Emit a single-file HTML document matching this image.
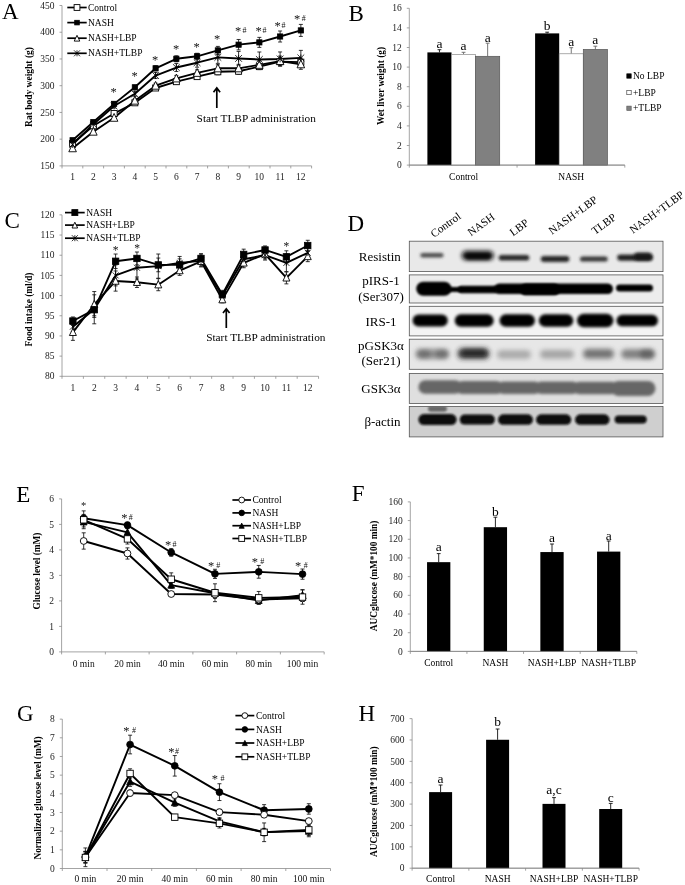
<!DOCTYPE html>
<html lang="en"><head><meta charset="utf-8"><title>Figure</title>
<style>html,body{margin:0;padding:0;background:#fff}svg{display:block}</style>
</head><body>
<svg width="685" height="885" viewBox="0 0 685 885" font-family='"Liberation Serif", "Times New Roman", serif'>
<defs>
<filter id="b1" x="-30%" y="-80%" width="160%" height="260%"><feGaussianBlur stdDeviation="1.0"/></filter>
<filter id="b15" x="-30%" y="-80%" width="160%" height="260%"><feGaussianBlur stdDeviation="1.5"/></filter>
<filter id="b2" x="-30%" y="-80%" width="160%" height="260%"><feGaussianBlur stdDeviation="2.0"/></filter>
<filter id="b25" x="-30%" y="-80%" width="160%" height="260%"><feGaussianBlur stdDeviation="2.6"/></filter>
<filter id="b07" x="-30%" y="-80%" width="160%" height="260%"><feGaussianBlur stdDeviation="0.7"/></filter>
</defs>
<rect width="685" height="885" fill="#fff"/>
<text x="2.00" y="19.00" font-size="23">A</text>
<text x="348.50" y="20.60" font-size="23">B</text>
<text x="4.50" y="228.00" font-size="23">C</text>
<text x="347.50" y="231.40" font-size="23">D</text>
<text x="16.30" y="502.00" font-size="23">E</text>
<text x="351.80" y="501.40" font-size="23">F</text>
<text x="17.00" y="721.00" font-size="23">G</text>
<text x="358.60" y="721.40" font-size="23">H</text>
<line x1="62.00" y1="5.49" x2="62.00" y2="165.90" stroke="#868686" stroke-width="0.75"/>
<line x1="62.00" y1="165.90" x2="311.60" y2="165.90" stroke="#868686" stroke-width="0.75"/>
<line x1="59.50" y1="165.90" x2="62.00" y2="165.90" stroke="#868686" stroke-width="0.75"/>
<line x1="59.50" y1="139.17" x2="62.00" y2="139.17" stroke="#868686" stroke-width="0.75"/>
<line x1="59.50" y1="112.43" x2="62.00" y2="112.43" stroke="#868686" stroke-width="0.75"/>
<line x1="59.50" y1="85.70" x2="62.00" y2="85.70" stroke="#868686" stroke-width="0.75"/>
<line x1="59.50" y1="58.96" x2="62.00" y2="58.96" stroke="#868686" stroke-width="0.75"/>
<line x1="59.50" y1="32.23" x2="62.00" y2="32.23" stroke="#868686" stroke-width="0.75"/>
<line x1="59.50" y1="5.49" x2="62.00" y2="5.49" stroke="#868686" stroke-width="0.75"/>
<line x1="62.00" y1="165.90" x2="62.00" y2="168.40" stroke="#868686" stroke-width="0.75"/>
<line x1="82.80" y1="165.90" x2="82.80" y2="168.40" stroke="#868686" stroke-width="0.75"/>
<line x1="103.60" y1="165.90" x2="103.60" y2="168.40" stroke="#868686" stroke-width="0.75"/>
<line x1="124.40" y1="165.90" x2="124.40" y2="168.40" stroke="#868686" stroke-width="0.75"/>
<line x1="145.20" y1="165.90" x2="145.20" y2="168.40" stroke="#868686" stroke-width="0.75"/>
<line x1="166.00" y1="165.90" x2="166.00" y2="168.40" stroke="#868686" stroke-width="0.75"/>
<line x1="186.80" y1="165.90" x2="186.80" y2="168.40" stroke="#868686" stroke-width="0.75"/>
<line x1="207.60" y1="165.90" x2="207.60" y2="168.40" stroke="#868686" stroke-width="0.75"/>
<line x1="228.40" y1="165.90" x2="228.40" y2="168.40" stroke="#868686" stroke-width="0.75"/>
<line x1="249.20" y1="165.90" x2="249.20" y2="168.40" stroke="#868686" stroke-width="0.75"/>
<line x1="270.00" y1="165.90" x2="270.00" y2="168.40" stroke="#868686" stroke-width="0.75"/>
<line x1="290.80" y1="165.90" x2="290.80" y2="168.40" stroke="#868686" stroke-width="0.75"/>
<line x1="311.60" y1="165.90" x2="311.60" y2="168.40" stroke="#868686" stroke-width="0.75"/>
<text x="54.40" y="169.05" font-size="9.5" text-anchor="end" fill="#222">150</text>
<text x="54.40" y="142.32" font-size="9.5" text-anchor="end" fill="#222">200</text>
<text x="54.40" y="115.58" font-size="9.5" text-anchor="end" fill="#222">250</text>
<text x="54.40" y="88.85" font-size="9.5" text-anchor="end" fill="#222">300</text>
<text x="54.40" y="62.11" font-size="9.5" text-anchor="end" fill="#222">350</text>
<text x="54.40" y="35.38" font-size="9.5" text-anchor="end" fill="#222">400</text>
<text x="54.40" y="8.64" font-size="9.5" text-anchor="end" fill="#222">450</text>
<text x="72.60" y="179.80" font-size="9.5" text-anchor="middle" fill="#222">1</text>
<text x="93.35" y="179.80" font-size="9.5" text-anchor="middle" fill="#222">2</text>
<text x="114.10" y="179.80" font-size="9.5" text-anchor="middle" fill="#222">3</text>
<text x="134.85" y="179.80" font-size="9.5" text-anchor="middle" fill="#222">4</text>
<text x="155.60" y="179.80" font-size="9.5" text-anchor="middle" fill="#222">5</text>
<text x="176.35" y="179.80" font-size="9.5" text-anchor="middle" fill="#222">6</text>
<text x="197.10" y="179.80" font-size="9.5" text-anchor="middle" fill="#222">7</text>
<text x="217.85" y="179.80" font-size="9.5" text-anchor="middle" fill="#222">8</text>
<text x="238.60" y="179.80" font-size="9.5" text-anchor="middle" fill="#222">9</text>
<text x="259.35" y="179.80" font-size="9.5" text-anchor="middle" fill="#222">10</text>
<text x="280.10" y="179.80" font-size="9.5" text-anchor="middle" fill="#222">11</text>
<text x="300.85" y="179.80" font-size="9.5" text-anchor="middle" fill="#222">12</text>
<text x="32.20" y="87.00" font-size="9.5" text-anchor="middle" font-weight="bold" transform="rotate(-90 32.20 87.00)">Rat body weight (g)</text>
<path d="M72.60 141.94 L72.60 144.94 M70.60 141.94 L74.60 141.94 M70.60 144.94 L74.60 144.94" fill="none" stroke="#111" stroke-width="0.85"/>
<path d="M93.35 124.30 L93.35 127.30 M91.35 124.30 L95.35 124.30 M91.35 127.30 L95.35 127.30" fill="none" stroke="#111" stroke-width="0.85"/>
<path d="M114.10 112.00 L114.10 115.00 M112.10 112.00 L116.10 112.00 M112.10 115.00 L116.10 115.00" fill="none" stroke="#111" stroke-width="0.85"/>
<path d="M134.85 100.81 L134.85 104.81 M132.85 100.81 L136.85 100.81 M132.85 104.81 L136.85 104.81" fill="none" stroke="#111" stroke-width="0.85"/>
<path d="M155.60 85.99 L155.60 89.99 M153.60 85.99 L157.60 85.99 M153.60 89.99 L157.60 89.99" fill="none" stroke="#111" stroke-width="0.85"/>
<path d="M176.35 79.18 L176.35 84.18 M174.35 79.18 L178.35 79.18 M174.35 84.18 L178.35 84.18" fill="none" stroke="#111" stroke-width="0.85"/>
<path d="M197.10 74.11 L197.10 79.11 M195.10 74.11 L199.10 74.11 M195.10 79.11 L199.10 79.11" fill="none" stroke="#111" stroke-width="0.85"/>
<path d="M217.85 68.79 L217.85 74.79 M215.85 68.79 L219.85 68.79 M215.85 74.79 L219.85 74.79" fill="none" stroke="#111" stroke-width="0.85"/>
<path d="M238.60 68.26 L238.60 74.26 M236.60 68.26 L240.60 68.26 M236.60 74.26 L240.60 74.26" fill="none" stroke="#111" stroke-width="0.85"/>
<path d="M259.35 63.61 L259.35 69.61 M257.35 63.61 L261.35 63.61 M257.35 69.61 L261.35 69.61" fill="none" stroke="#111" stroke-width="0.85"/>
<path d="M280.10 58.13 L280.10 65.13 M278.10 58.13 L282.10 58.13 M278.10 65.13 L282.10 65.13" fill="none" stroke="#111" stroke-width="0.85"/>
<path d="M300.85 58.17 L300.85 66.17 M298.85 58.17 L302.85 58.17 M298.85 66.17 L302.85 66.17" fill="none" stroke="#111" stroke-width="0.85"/>
<path d="M72.60 146.75 L72.60 149.75 M70.60 146.75 L74.60 146.75 M70.60 149.75 L74.60 149.75" fill="none" stroke="#111" stroke-width="0.85"/>
<path d="M93.35 130.18 L93.35 133.18 M91.35 130.18 L95.35 130.18 M91.35 133.18 L95.35 133.18" fill="none" stroke="#111" stroke-width="0.85"/>
<path d="M114.10 115.78 L114.10 119.78 M112.10 115.78 L116.10 115.78 M112.10 119.78 L116.10 119.78" fill="none" stroke="#111" stroke-width="0.85"/>
<path d="M134.85 98.67 L134.85 102.67 M132.85 98.67 L136.85 98.67 M132.85 102.67 L136.85 102.67" fill="none" stroke="#111" stroke-width="0.85"/>
<path d="M155.60 83.20 L155.60 88.20 M153.60 83.20 L157.60 83.20 M153.60 88.20 L157.60 88.20" fill="none" stroke="#111" stroke-width="0.85"/>
<path d="M176.35 75.42 L176.35 81.42 M174.35 75.42 L178.35 75.42 M174.35 81.42 L178.35 81.42" fill="none" stroke="#111" stroke-width="0.85"/>
<path d="M197.10 69.86 L197.10 75.86 M195.10 69.86 L199.10 69.86 M195.10 75.86 L199.10 75.86" fill="none" stroke="#111" stroke-width="0.85"/>
<path d="M217.85 64.82 L217.85 71.82 M215.85 64.82 L219.85 64.82 M215.85 71.82 L219.85 71.82" fill="none" stroke="#111" stroke-width="0.85"/>
<path d="M238.60 64.32 L238.60 72.32 M236.60 64.32 L240.60 64.32 M236.60 72.32 L240.60 72.32" fill="none" stroke="#111" stroke-width="0.85"/>
<path d="M259.35 60.84 L259.35 68.84 M257.35 60.84 L261.35 60.84 M257.35 68.84 L261.35 68.84" fill="none" stroke="#111" stroke-width="0.85"/>
<path d="M280.10 56.10 L280.10 66.10 M278.10 56.10 L282.10 56.10 M278.10 66.10 L282.10 66.10" fill="none" stroke="#111" stroke-width="0.85"/>
<path d="M300.85 59.31 L300.85 69.31 M298.85 59.31 L302.85 59.31 M298.85 69.31 L302.85 69.31" fill="none" stroke="#111" stroke-width="0.85"/>
<path d="M72.60 143.01 L72.60 146.01 M70.60 143.01 L74.60 143.01 M70.60 146.01 L74.60 146.01" fill="none" stroke="#111" stroke-width="0.85"/>
<path d="M93.35 122.69 L93.35 125.69 M91.35 122.69 L95.35 122.69 M91.35 125.69 L95.35 125.69" fill="none" stroke="#111" stroke-width="0.85"/>
<path d="M114.10 104.01 L114.10 108.01 M112.10 104.01 L116.10 104.01 M112.10 108.01 L116.10 108.01" fill="none" stroke="#111" stroke-width="0.85"/>
<path d="M134.85 91.22 L134.85 96.22 M132.85 91.22 L136.85 91.22 M132.85 96.22 L136.85 96.22" fill="none" stroke="#111" stroke-width="0.85"/>
<path d="M155.60 72.54 L155.60 78.54 M153.60 72.54 L157.60 72.54 M153.60 78.54 L157.60 78.54" fill="none" stroke="#111" stroke-width="0.85"/>
<path d="M176.35 63.52 L176.35 71.52 M174.35 63.52 L178.35 63.52 M174.35 71.52 L178.35 71.52" fill="none" stroke="#111" stroke-width="0.85"/>
<path d="M197.10 58.20 L197.10 67.20 M195.10 58.20 L199.10 58.20 M195.10 67.20 L199.10 67.20" fill="none" stroke="#111" stroke-width="0.85"/>
<path d="M217.85 51.36 L217.85 63.36 M215.85 51.36 L219.85 51.36 M215.85 63.36 L219.85 63.36" fill="none" stroke="#111" stroke-width="0.85"/>
<path d="M238.60 51.43 L238.60 65.43 M236.60 51.43 L240.60 51.43 M236.60 65.43 L240.60 65.43" fill="none" stroke="#111" stroke-width="0.85"/>
<path d="M259.35 51.99 L259.35 66.99 M257.35 51.99 L261.35 51.99 M257.35 66.99 L261.35 66.99" fill="none" stroke="#111" stroke-width="0.85"/>
<path d="M280.10 51.96 L280.10 65.96 M278.10 51.96 L282.10 51.96 M278.10 65.96 L282.10 65.96" fill="none" stroke="#111" stroke-width="0.85"/>
<path d="M300.85 50.39 L300.85 65.39 M298.85 50.39 L302.85 50.39 M298.85 65.39 L302.85 65.39" fill="none" stroke="#111" stroke-width="0.85"/>
<path d="M72.60 138.73 L72.60 141.73 M70.60 138.73 L74.60 138.73 M70.60 141.73 L74.60 141.73" fill="none" stroke="#111" stroke-width="0.85"/>
<path d="M93.35 120.55 L93.35 123.55 M91.35 120.55 L95.35 120.55 M91.35 123.55 L95.35 123.55" fill="none" stroke="#111" stroke-width="0.85"/>
<path d="M114.10 101.87 L114.10 105.87 M112.10 101.87 L116.10 101.87 M112.10 105.87 L116.10 105.87" fill="none" stroke="#111" stroke-width="0.85"/>
<path d="M134.85 85.30 L134.85 89.30 M132.85 85.30 L136.85 85.30 M132.85 89.30 L136.85 89.30" fill="none" stroke="#111" stroke-width="0.85"/>
<path d="M155.60 65.82 L155.60 70.82 M153.60 65.82 L157.60 65.82 M153.60 70.82 L157.60 70.82" fill="none" stroke="#111" stroke-width="0.85"/>
<path d="M176.35 55.80 L176.35 61.80 M174.35 55.80 L178.35 55.80 M174.35 61.80 L178.35 61.80" fill="none" stroke="#111" stroke-width="0.85"/>
<path d="M197.10 53.29 L197.10 59.29 M195.10 53.29 L199.10 53.29 M195.10 59.29 L199.10 59.29" fill="none" stroke="#111" stroke-width="0.85"/>
<path d="M217.85 46.40 L217.85 54.40 M215.85 46.40 L219.85 46.40 M215.85 54.40 L219.85 54.40" fill="none" stroke="#111" stroke-width="0.85"/>
<path d="M238.60 39.48 L238.60 49.88 M236.60 39.48 L240.60 39.48 M236.60 49.88 L240.60 49.88" fill="none" stroke="#111" stroke-width="0.85"/>
<path d="M259.35 37.38 L259.35 47.38 M257.35 37.38 L261.35 37.38 M257.35 47.38 L261.35 47.38" fill="none" stroke="#111" stroke-width="0.85"/>
<path d="M280.10 31.00 L280.10 42.00 M278.10 31.00 L282.10 31.00 M278.10 42.00 L282.10 42.00" fill="none" stroke="#111" stroke-width="0.85"/>
<path d="M300.85 24.41 L300.85 36.41 M298.85 24.41 L302.85 24.41 M298.85 36.41 L302.85 36.41" fill="none" stroke="#111" stroke-width="0.85"/>
<polyline points="72.60,143.44 93.35,125.80 114.10,113.50 134.85,102.81 155.60,87.99 176.35,81.68 197.10,76.61 217.85,71.79 238.60,71.26 259.35,66.61 280.10,61.63 300.85,62.17" fill="none" stroke="#000" stroke-width="1.9" stroke-linejoin="round"/>
<polyline points="72.60,148.25 93.35,131.68 114.10,117.78 134.85,100.67 155.60,85.70 176.35,78.42 197.10,72.86 217.85,68.32 238.60,68.32 259.35,64.84 280.10,61.10 300.85,64.31" fill="none" stroke="#000" stroke-width="1.9" stroke-linejoin="round"/>
<polyline points="72.60,144.51 93.35,124.19 114.10,106.01 134.85,93.72 155.60,75.54 176.35,67.52 197.10,62.70 217.85,57.36 238.60,58.43 259.35,59.49 280.10,58.96 300.85,57.89" fill="none" stroke="#000" stroke-width="1.9" stroke-linejoin="round"/>
<polyline points="72.60,140.23 93.35,122.05 114.10,103.87 134.85,87.30 155.60,68.32 176.35,58.80 197.10,56.29 217.85,50.40 238.60,44.68 259.35,42.38 280.10,36.50 300.85,30.41" fill="none" stroke="#000" stroke-width="1.9" stroke-linejoin="round"/>
<rect x="69.60" y="140.44" width="6.00" height="6.00" fill="#fff" stroke="#000" stroke-width="0.9"/>
<rect x="90.35" y="122.80" width="6.00" height="6.00" fill="#fff" stroke="#000" stroke-width="0.9"/>
<rect x="111.10" y="110.50" width="6.00" height="6.00" fill="#fff" stroke="#000" stroke-width="0.9"/>
<rect x="131.85" y="99.81" width="6.00" height="6.00" fill="#fff" stroke="#000" stroke-width="0.9"/>
<rect x="152.60" y="84.99" width="6.00" height="6.00" fill="#fff" stroke="#000" stroke-width="0.9"/>
<rect x="173.35" y="78.68" width="6.00" height="6.00" fill="#fff" stroke="#000" stroke-width="0.9"/>
<rect x="194.10" y="73.61" width="6.00" height="6.00" fill="#fff" stroke="#000" stroke-width="0.9"/>
<rect x="214.85" y="68.79" width="6.00" height="6.00" fill="#fff" stroke="#000" stroke-width="0.9"/>
<rect x="235.60" y="68.26" width="6.00" height="6.00" fill="#fff" stroke="#000" stroke-width="0.9"/>
<rect x="256.35" y="63.61" width="6.00" height="6.00" fill="#fff" stroke="#000" stroke-width="0.9"/>
<rect x="277.10" y="58.63" width="6.00" height="6.00" fill="#fff" stroke="#000" stroke-width="0.9"/>
<rect x="297.85" y="59.17" width="6.00" height="6.00" fill="#fff" stroke="#000" stroke-width="0.9"/>
<path d="M72.60 143.95 L76.40 151.75 L68.80 151.75 Z" fill="#fff" stroke="#000" stroke-width="0.9"/>
<path d="M93.35 127.38 L97.15 135.18 L89.55 135.18 Z" fill="#fff" stroke="#000" stroke-width="0.9"/>
<path d="M114.10 113.48 L117.90 121.28 L110.30 121.28 Z" fill="#fff" stroke="#000" stroke-width="0.9"/>
<path d="M134.85 96.37 L138.65 104.17 L131.05 104.17 Z" fill="#fff" stroke="#000" stroke-width="0.9"/>
<path d="M155.60 81.40 L159.40 89.20 L151.80 89.20 Z" fill="#fff" stroke="#000" stroke-width="0.9"/>
<path d="M176.35 74.12 L180.15 81.92 L172.55 81.92 Z" fill="#fff" stroke="#000" stroke-width="0.9"/>
<path d="M197.10 68.56 L200.90 76.36 L193.30 76.36 Z" fill="#fff" stroke="#000" stroke-width="0.9"/>
<path d="M217.85 64.02 L221.65 71.82 L214.05 71.82 Z" fill="#fff" stroke="#000" stroke-width="0.9"/>
<path d="M238.60 64.02 L242.40 71.82 L234.80 71.82 Z" fill="#fff" stroke="#000" stroke-width="0.9"/>
<path d="M259.35 60.54 L263.15 68.34 L255.55 68.34 Z" fill="#fff" stroke="#000" stroke-width="0.9"/>
<path d="M280.10 56.80 L283.90 64.60 L276.30 64.60 Z" fill="#fff" stroke="#000" stroke-width="0.9"/>
<path d="M300.85 60.01 L304.65 67.81 L297.05 67.81 Z" fill="#fff" stroke="#000" stroke-width="0.9"/>
<path d="M69.20 141.11 L76.00 147.91 M69.20 147.91 L76.00 141.11 M72.60 141.11 L72.60 147.91" fill="none" stroke="#000" stroke-width="0.8"/>
<path d="M89.95 120.79 L96.75 127.59 M89.95 127.59 L96.75 120.79 M93.35 120.79 L93.35 127.59" fill="none" stroke="#000" stroke-width="0.8"/>
<path d="M110.70 102.61 L117.50 109.41 M110.70 109.41 L117.50 102.61 M114.10 102.61 L114.10 109.41" fill="none" stroke="#000" stroke-width="0.8"/>
<path d="M131.45 90.32 L138.25 97.12 M131.45 97.12 L138.25 90.32 M134.85 90.32 L134.85 97.12" fill="none" stroke="#000" stroke-width="0.8"/>
<path d="M152.20 72.14 L159.00 78.94 M152.20 78.94 L159.00 72.14 M155.60 72.14 L155.60 78.94" fill="none" stroke="#000" stroke-width="0.8"/>
<path d="M172.95 64.12 L179.75 70.92 M172.95 70.92 L179.75 64.12 M176.35 64.12 L176.35 70.92" fill="none" stroke="#000" stroke-width="0.8"/>
<path d="M193.70 59.30 L200.50 66.10 M193.70 66.10 L200.50 59.30 M197.10 59.30 L197.10 66.10" fill="none" stroke="#000" stroke-width="0.8"/>
<path d="M214.45 53.96 L221.25 60.76 M214.45 60.76 L221.25 53.96 M217.85 53.96 L217.85 60.76" fill="none" stroke="#000" stroke-width="0.8"/>
<path d="M235.20 55.03 L242.00 61.83 M235.20 61.83 L242.00 55.03 M238.60 55.03 L238.60 61.83" fill="none" stroke="#000" stroke-width="0.8"/>
<path d="M255.95 56.09 L262.75 62.89 M255.95 62.89 L262.75 56.09 M259.35 56.09 L259.35 62.89" fill="none" stroke="#000" stroke-width="0.8"/>
<path d="M276.70 55.56 L283.50 62.36 M276.70 62.36 L283.50 55.56 M280.10 55.56 L280.10 62.36" fill="none" stroke="#000" stroke-width="0.8"/>
<path d="M297.45 54.49 L304.25 61.29 M297.45 61.29 L304.25 54.49 M300.85 54.49 L300.85 61.29" fill="none" stroke="#000" stroke-width="0.8"/>
<rect x="70.00" y="137.63" width="5.20" height="5.20" fill="#000" stroke="#000" stroke-width="0.8"/>
<rect x="90.75" y="119.45" width="5.20" height="5.20" fill="#000" stroke="#000" stroke-width="0.8"/>
<rect x="111.50" y="101.27" width="5.20" height="5.20" fill="#000" stroke="#000" stroke-width="0.8"/>
<rect x="132.25" y="84.70" width="5.20" height="5.20" fill="#000" stroke="#000" stroke-width="0.8"/>
<rect x="153.00" y="65.72" width="5.20" height="5.20" fill="#000" stroke="#000" stroke-width="0.8"/>
<rect x="173.75" y="56.20" width="5.20" height="5.20" fill="#000" stroke="#000" stroke-width="0.8"/>
<rect x="194.50" y="53.69" width="5.20" height="5.20" fill="#000" stroke="#000" stroke-width="0.8"/>
<rect x="215.25" y="47.80" width="5.20" height="5.20" fill="#000" stroke="#000" stroke-width="0.8"/>
<rect x="236.00" y="42.08" width="5.20" height="5.20" fill="#000" stroke="#000" stroke-width="0.8"/>
<rect x="256.75" y="39.78" width="5.20" height="5.20" fill="#000" stroke="#000" stroke-width="0.8"/>
<rect x="277.50" y="33.90" width="5.20" height="5.20" fill="#000" stroke="#000" stroke-width="0.8"/>
<rect x="298.25" y="27.81" width="5.20" height="5.20" fill="#000" stroke="#000" stroke-width="0.8"/>
<line x1="67.30" y1="7.50" x2="86.70" y2="7.50" stroke="#000" stroke-width="1.7"/>
<rect x="74.10" y="4.60" width="5.80" height="5.80" fill="#fff" stroke="#000" stroke-width="0.9"/>
<text x="88.00" y="10.60" font-size="9.5">Control</text>
<line x1="67.30" y1="22.60" x2="86.70" y2="22.60" stroke="#000" stroke-width="1.7"/>
<rect x="74.70" y="20.30" width="4.60" height="4.60" fill="#000" stroke="#000" stroke-width="0.8"/>
<text x="88.00" y="25.70" font-size="9.5">NASH</text>
<line x1="67.30" y1="38.20" x2="86.70" y2="38.20" stroke="#000" stroke-width="1.7"/>
<path d="M77.00 35.30 L79.80 41.10 L74.20 41.10 Z" fill="#fff" stroke="#000" stroke-width="0.9"/>
<text x="88.00" y="41.30" font-size="9.5">NASH+LBP</text>
<line x1="67.30" y1="53.30" x2="86.70" y2="53.30" stroke="#000" stroke-width="1.7"/>
<path d="M74.00 50.30 L80.00 56.30 M74.00 56.30 L80.00 50.30 M77.00 50.30 L77.00 56.30" fill="none" stroke="#000" stroke-width="0.8"/>
<text x="88.00" y="56.40" font-size="9.5">NASH+TLBP</text>
<text x="113.50" y="96.38" font-size="12.5" text-anchor="middle" fill="#111">*</text>
<text x="134.50" y="79.88" font-size="12.5" text-anchor="middle" fill="#111">*</text>
<text x="155.00" y="63.88" font-size="12.5" text-anchor="middle" fill="#111">*</text>
<text x="176.00" y="52.88" font-size="12.5" text-anchor="middle" fill="#111">*</text>
<text x="196.50" y="50.88" font-size="12.5" text-anchor="middle" fill="#111">*</text>
<text x="217.00" y="43.38" font-size="12.5" text-anchor="middle" fill="#111">*</text>
<text x="238.00" y="34.88" font-size="12.5" text-anchor="middle" fill="#111">*</text>
<text x="258.50" y="34.88" font-size="12.5" text-anchor="middle" fill="#111">*</text>
<text x="277.50" y="29.88" font-size="12.5" text-anchor="middle" fill="#111">*</text>
<text x="297.00" y="22.88" font-size="12.5" text-anchor="middle" fill="#111">*</text>
<text x="244.50" y="33.04" font-size="8" text-anchor="middle" fill="#111">#</text>
<text x="264.50" y="33.04" font-size="8" text-anchor="middle" fill="#111">#</text>
<text x="283.50" y="28.04" font-size="8" text-anchor="middle" fill="#111">#</text>
<text x="303.80" y="21.04" font-size="8" text-anchor="middle" fill="#111">#</text>
<path d="M216.80 108.00 L216.80 88.00 M213.50 92.20 L216.80 88.00 L220.10 92.20" fill="none" stroke="#000" stroke-width="1.7"/>
<text x="196.60" y="121.70" font-size="11.3">Start TLBP administration</text>
<line x1="409.30" y1="8.30" x2="409.30" y2="165.10" stroke="#868686" stroke-width="0.75"/>
<line x1="409.30" y1="165.10" x2="624.80" y2="165.10" stroke="#868686" stroke-width="0.75"/>
<line x1="406.80" y1="165.10" x2="409.30" y2="165.10" stroke="#868686" stroke-width="0.75"/>
<line x1="406.80" y1="145.50" x2="409.30" y2="145.50" stroke="#868686" stroke-width="0.75"/>
<line x1="406.80" y1="125.90" x2="409.30" y2="125.90" stroke="#868686" stroke-width="0.75"/>
<line x1="406.80" y1="106.30" x2="409.30" y2="106.30" stroke="#868686" stroke-width="0.75"/>
<line x1="406.80" y1="86.70" x2="409.30" y2="86.70" stroke="#868686" stroke-width="0.75"/>
<line x1="406.80" y1="67.10" x2="409.30" y2="67.10" stroke="#868686" stroke-width="0.75"/>
<line x1="406.80" y1="47.50" x2="409.30" y2="47.50" stroke="#868686" stroke-width="0.75"/>
<line x1="406.80" y1="27.90" x2="409.30" y2="27.90" stroke="#868686" stroke-width="0.75"/>
<line x1="406.80" y1="8.30" x2="409.30" y2="8.30" stroke="#868686" stroke-width="0.75"/>
<line x1="409.30" y1="165.10" x2="409.30" y2="167.60" stroke="#868686" stroke-width="0.75"/>
<line x1="517.05" y1="165.10" x2="517.05" y2="167.60" stroke="#868686" stroke-width="0.75"/>
<line x1="624.80" y1="165.10" x2="624.80" y2="167.60" stroke="#868686" stroke-width="0.75"/>
<text x="401.70" y="168.25" font-size="9.5" text-anchor="end" fill="#222">0</text>
<text x="401.70" y="148.65" font-size="9.5" text-anchor="end" fill="#222">2</text>
<text x="401.70" y="129.05" font-size="9.5" text-anchor="end" fill="#222">4</text>
<text x="401.70" y="109.45" font-size="9.5" text-anchor="end" fill="#222">6</text>
<text x="401.70" y="89.85" font-size="9.5" text-anchor="end" fill="#222">8</text>
<text x="401.70" y="70.25" font-size="9.5" text-anchor="end" fill="#222">10</text>
<text x="401.70" y="50.65" font-size="9.5" text-anchor="end" fill="#222">12</text>
<text x="401.70" y="31.05" font-size="9.5" text-anchor="end" fill="#222">14</text>
<text x="401.70" y="11.45" font-size="9.5" text-anchor="end" fill="#222">16</text>
<text x="383.70" y="86.00" font-size="9.3" text-anchor="middle" font-weight="bold" transform="rotate(-90 383.70 86.00)">Wet liver weight (g)</text>
<path d="M439.45 52.40 L439.45 49.70 M437.55 49.70 L441.35 49.70" fill="none" stroke="#111" stroke-width="0.9"/>
<path d="M463.55 54.36 L463.55 52.30 M461.65 52.30 L465.45 52.30" fill="none" stroke="#666" stroke-width="0.9"/>
<path d="M487.65 56.32 L487.65 43.20 M485.75 43.20 L489.55 43.20" fill="none" stroke="#666" stroke-width="0.9"/>
<rect x="427.40" y="52.40" width="24.10" height="112.70" fill="#000"/>
<rect x="451.50" y="54.36" width="24.10" height="110.74" fill="#fff" stroke="#8a8a8a" stroke-width="0.7"/>
<rect x="475.60" y="56.32" width="24.10" height="108.78" fill="#808080" stroke="#555" stroke-width="0.7"/>
<text x="439.45" y="48.30" font-size="13.5" text-anchor="middle">a</text>
<text x="463.55" y="49.70" font-size="13.5" text-anchor="middle">a</text>
<text x="487.65" y="41.60" font-size="13.5" text-anchor="middle">a</text>
<path d="M547.15 33.39 L547.15 32.20 M545.25 32.20 L549.05 32.20" fill="none" stroke="#111" stroke-width="0.9"/>
<path d="M571.25 53.77 L571.25 47.70 M569.35 47.70 L573.15 47.70" fill="none" stroke="#666" stroke-width="0.9"/>
<path d="M595.35 49.46 L595.35 46.20 M593.45 46.20 L597.25 46.20" fill="none" stroke="#666" stroke-width="0.9"/>
<rect x="535.10" y="33.39" width="24.10" height="131.71" fill="#000"/>
<rect x="559.20" y="53.77" width="24.10" height="111.33" fill="#fff" stroke="#8a8a8a" stroke-width="0.7"/>
<rect x="583.30" y="49.46" width="24.10" height="115.64" fill="#808080" stroke="#555" stroke-width="0.7"/>
<text x="547.15" y="30.40" font-size="13.5" text-anchor="middle">b</text>
<text x="571.25" y="45.60" font-size="13.5" text-anchor="middle">a</text>
<text x="595.35" y="43.90" font-size="13.5" text-anchor="middle">a</text>
<line x1="409.30" y1="165.10" x2="624.80" y2="165.10" stroke="#868686" stroke-width="0.75"/>
<text x="463.60" y="179.70" font-size="9.5" text-anchor="middle">Control</text>
<text x="571.30" y="179.70" font-size="9.5" text-anchor="middle">NASH</text>
<rect x="626.8" y="73.80" width="4.4" height="4.4" fill="#000" stroke="#000" stroke-width="0.6"/>
<text x="633.00" y="79.00" font-size="9.5">No LBP</text>
<rect x="626.8" y="90.30" width="4.4" height="4.4" fill="#fff" stroke="#333" stroke-width="0.6"/>
<text x="633.00" y="95.50" font-size="9.5">+LBP</text>
<rect x="626.8" y="106.10" width="4.4" height="4.4" fill="#808080" stroke="#555" stroke-width="0.6"/>
<text x="633.00" y="111.30" font-size="9.5">+TLBP</text>
<line x1="62.00" y1="214.86" x2="62.00" y2="376.30" stroke="#868686" stroke-width="0.75"/>
<line x1="62.00" y1="376.30" x2="318.56" y2="376.30" stroke="#868686" stroke-width="0.75"/>
<line x1="59.50" y1="376.30" x2="62.00" y2="376.30" stroke="#868686" stroke-width="0.75"/>
<line x1="59.50" y1="356.12" x2="62.00" y2="356.12" stroke="#868686" stroke-width="0.75"/>
<line x1="59.50" y1="335.94" x2="62.00" y2="335.94" stroke="#868686" stroke-width="0.75"/>
<line x1="59.50" y1="315.76" x2="62.00" y2="315.76" stroke="#868686" stroke-width="0.75"/>
<line x1="59.50" y1="295.58" x2="62.00" y2="295.58" stroke="#868686" stroke-width="0.75"/>
<line x1="59.50" y1="275.40" x2="62.00" y2="275.40" stroke="#868686" stroke-width="0.75"/>
<line x1="59.50" y1="255.22" x2="62.00" y2="255.22" stroke="#868686" stroke-width="0.75"/>
<line x1="59.50" y1="235.04" x2="62.00" y2="235.04" stroke="#868686" stroke-width="0.75"/>
<line x1="59.50" y1="214.86" x2="62.00" y2="214.86" stroke="#868686" stroke-width="0.75"/>
<line x1="62.00" y1="376.30" x2="62.00" y2="378.80" stroke="#868686" stroke-width="0.75"/>
<line x1="83.38" y1="376.30" x2="83.38" y2="378.80" stroke="#868686" stroke-width="0.75"/>
<line x1="104.76" y1="376.30" x2="104.76" y2="378.80" stroke="#868686" stroke-width="0.75"/>
<line x1="126.14" y1="376.30" x2="126.14" y2="378.80" stroke="#868686" stroke-width="0.75"/>
<line x1="147.52" y1="376.30" x2="147.52" y2="378.80" stroke="#868686" stroke-width="0.75"/>
<line x1="168.90" y1="376.30" x2="168.90" y2="378.80" stroke="#868686" stroke-width="0.75"/>
<line x1="190.28" y1="376.30" x2="190.28" y2="378.80" stroke="#868686" stroke-width="0.75"/>
<line x1="211.66" y1="376.30" x2="211.66" y2="378.80" stroke="#868686" stroke-width="0.75"/>
<line x1="233.04" y1="376.30" x2="233.04" y2="378.80" stroke="#868686" stroke-width="0.75"/>
<line x1="254.42" y1="376.30" x2="254.42" y2="378.80" stroke="#868686" stroke-width="0.75"/>
<line x1="275.80" y1="376.30" x2="275.80" y2="378.80" stroke="#868686" stroke-width="0.75"/>
<line x1="297.18" y1="376.30" x2="297.18" y2="378.80" stroke="#868686" stroke-width="0.75"/>
<line x1="318.56" y1="376.30" x2="318.56" y2="378.80" stroke="#868686" stroke-width="0.75"/>
<text x="54.40" y="379.45" font-size="9.5" text-anchor="end" fill="#222">80</text>
<text x="54.40" y="359.27" font-size="9.5" text-anchor="end" fill="#222">85</text>
<text x="54.40" y="339.09" font-size="9.5" text-anchor="end" fill="#222">90</text>
<text x="54.40" y="318.91" font-size="9.5" text-anchor="end" fill="#222">95</text>
<text x="54.40" y="298.73" font-size="9.5" text-anchor="end" fill="#222">100</text>
<text x="54.40" y="278.55" font-size="9.5" text-anchor="end" fill="#222">105</text>
<text x="54.40" y="258.37" font-size="9.5" text-anchor="end" fill="#222">110</text>
<text x="54.40" y="238.19" font-size="9.5" text-anchor="end" fill="#222">115</text>
<text x="54.40" y="218.01" font-size="9.5" text-anchor="end" fill="#222">120</text>
<text x="72.90" y="390.80" font-size="9.5" text-anchor="middle" fill="#222">1</text>
<text x="94.25" y="390.80" font-size="9.5" text-anchor="middle" fill="#222">2</text>
<text x="115.60" y="390.80" font-size="9.5" text-anchor="middle" fill="#222">3</text>
<text x="136.95" y="390.80" font-size="9.5" text-anchor="middle" fill="#222">4</text>
<text x="158.30" y="390.80" font-size="9.5" text-anchor="middle" fill="#222">5</text>
<text x="179.65" y="390.80" font-size="9.5" text-anchor="middle" fill="#222">6</text>
<text x="201.00" y="390.80" font-size="9.5" text-anchor="middle" fill="#222">7</text>
<text x="222.35" y="390.80" font-size="9.5" text-anchor="middle" fill="#222">8</text>
<text x="243.70" y="390.80" font-size="9.5" text-anchor="middle" fill="#222">9</text>
<text x="265.05" y="390.80" font-size="9.5" text-anchor="middle" fill="#222">10</text>
<text x="286.40" y="390.80" font-size="9.5" text-anchor="middle" fill="#222">11</text>
<text x="307.75" y="390.80" font-size="9.5" text-anchor="middle" fill="#222">12</text>
<text x="32.20" y="309.50" font-size="9.3" text-anchor="middle" font-weight="bold" transform="rotate(-90 32.20 309.50)">Food intake (ml/d)</text>
<path d="M72.90 324.25 L72.90 340.37 M70.90 324.25 L74.90 324.25 M70.90 340.37 L74.90 340.37" fill="none" stroke="#111" stroke-width="0.85"/>
<path d="M94.25 291.56 L94.25 317.36 M92.25 291.56 L96.25 291.56 M92.25 317.36 L96.25 317.36" fill="none" stroke="#111" stroke-width="0.85"/>
<path d="M115.60 270.98 L115.60 291.13 M113.60 270.98 L117.60 270.98 M113.60 291.13 L117.60 291.13" fill="none" stroke="#111" stroke-width="0.85"/>
<path d="M136.95 277.02 L136.95 287.50 M134.95 277.02 L138.95 277.02 M134.95 287.50 L138.95 287.50" fill="none" stroke="#111" stroke-width="0.85"/>
<path d="M158.30 278.64 L158.30 290.73 M156.30 278.64 L160.30 278.64 M156.30 290.73 L160.30 290.73" fill="none" stroke="#111" stroke-width="0.85"/>
<path d="M179.65 265.72 L179.65 275.39 M177.65 265.72 L181.65 265.72 M177.65 275.39 L181.65 275.39" fill="none" stroke="#111" stroke-width="0.85"/>
<path d="M201.00 256.44 L201.00 266.11 M199.00 256.44 L203.00 256.44 M199.00 266.11 L203.00 266.11" fill="none" stroke="#111" stroke-width="0.85"/>
<path d="M222.35 296.39 L222.35 302.84 M220.35 296.39 L224.35 296.39 M220.35 302.84 L224.35 302.84" fill="none" stroke="#111" stroke-width="0.85"/>
<path d="M243.70 258.05 L243.70 267.72 M241.70 258.05 L245.70 258.05 M241.70 267.72 L245.70 267.72" fill="none" stroke="#111" stroke-width="0.85"/>
<path d="M265.05 249.17 L265.05 258.85 M263.05 249.17 L267.05 249.17 M263.05 258.85 L267.05 258.85" fill="none" stroke="#111" stroke-width="0.85"/>
<path d="M286.40 271.78 L286.40 283.87 M284.40 271.78 L288.40 271.78 M284.40 283.87 L288.40 283.87" fill="none" stroke="#111" stroke-width="0.85"/>
<path d="M307.75 251.19 L307.75 261.67 M305.75 251.19 L309.75 251.19 M305.75 261.67 L309.75 261.67" fill="none" stroke="#111" stroke-width="0.85"/>
<path d="M72.90 321.82 L72.90 331.49 M70.90 321.82 L74.90 321.82 M70.90 331.49 L74.90 331.49" fill="none" stroke="#111" stroke-width="0.85"/>
<path d="M94.25 294.79 L94.25 323.81 M92.25 294.79 L96.25 294.79 M92.25 323.81 L96.25 323.81" fill="none" stroke="#111" stroke-width="0.85"/>
<path d="M115.60 264.92 L115.60 285.88 M113.60 264.92 L117.60 264.92 M113.60 285.88 L117.60 285.88" fill="none" stroke="#111" stroke-width="0.85"/>
<path d="M136.95 256.45 L136.95 279.02 M134.95 256.45 L138.95 256.45 M134.95 279.02 L138.95 279.02" fill="none" stroke="#111" stroke-width="0.85"/>
<path d="M158.30 254.03 L158.30 278.21 M156.30 254.03 L160.30 254.03 M156.30 278.21 L160.30 278.21" fill="none" stroke="#111" stroke-width="0.85"/>
<path d="M179.65 256.44 L179.65 269.34 M177.65 256.44 L181.65 256.44 M177.65 269.34 L181.65 269.34" fill="none" stroke="#111" stroke-width="0.85"/>
<path d="M201.00 254.83 L201.00 266.92 M199.00 254.83 L203.00 254.83 M199.00 266.92 L203.00 266.92" fill="none" stroke="#111" stroke-width="0.85"/>
<path d="M222.35 292.36 L222.35 298.80 M220.35 292.36 L224.35 292.36 M220.35 298.80 L224.35 298.80" fill="none" stroke="#111" stroke-width="0.85"/>
<path d="M243.70 254.42 L243.70 264.09 M241.70 254.42 L245.70 254.42 M241.70 264.09 L245.70 264.09" fill="none" stroke="#111" stroke-width="0.85"/>
<path d="M265.05 250.38 L265.05 260.06 M263.05 250.38 L267.05 250.38 M263.05 260.06 L267.05 260.06" fill="none" stroke="#111" stroke-width="0.85"/>
<path d="M286.40 254.02 L286.40 271.75 M284.40 254.02 L288.40 254.02 M284.40 271.75 L288.40 271.75" fill="none" stroke="#111" stroke-width="0.85"/>
<path d="M307.75 247.96 L307.75 257.63 M305.75 247.96 L309.75 247.96 M305.75 257.63 L309.75 257.63" fill="none" stroke="#111" stroke-width="0.85"/>
<path d="M72.90 316.98 L72.90 325.04 M70.90 316.98 L74.90 316.98 M70.90 325.04 L74.90 325.04" fill="none" stroke="#111" stroke-width="0.85"/>
<path d="M94.25 303.66 L94.25 315.75 M92.25 303.66 L96.25 303.66 M92.25 315.75 L96.25 315.75" fill="none" stroke="#111" stroke-width="0.85"/>
<path d="M115.60 254.02 L115.60 268.53 M113.60 254.02 L117.60 254.02 M113.60 268.53 L117.60 268.53" fill="none" stroke="#111" stroke-width="0.85"/>
<path d="M136.95 252.00 L136.95 264.90 M134.95 252.00 L138.95 252.00 M134.95 264.90 L138.95 264.90" fill="none" stroke="#111" stroke-width="0.85"/>
<path d="M158.30 258.06 L158.30 271.76 M156.30 258.06 L160.30 258.06 M156.30 271.76 L160.30 271.76" fill="none" stroke="#111" stroke-width="0.85"/>
<path d="M179.65 258.86 L179.65 270.95 M177.65 258.86 L181.65 258.86 M177.65 270.95 L181.65 270.95" fill="none" stroke="#111" stroke-width="0.85"/>
<path d="M201.00 253.61 L201.00 263.28 M199.00 253.61 L203.00 253.61 M199.00 263.28 L203.00 263.28" fill="none" stroke="#111" stroke-width="0.85"/>
<path d="M222.35 290.34 L222.35 298.40 M220.35 290.34 L224.35 290.34 M220.35 298.40 L224.35 298.40" fill="none" stroke="#111" stroke-width="0.85"/>
<path d="M243.70 249.17 L243.70 259.65 M241.70 249.17 L245.70 249.17 M241.70 259.65 L245.70 259.65" fill="none" stroke="#111" stroke-width="0.85"/>
<path d="M265.05 245.94 L265.05 254.00 M263.05 245.94 L267.05 245.94 M263.05 254.00 L267.05 254.00" fill="none" stroke="#111" stroke-width="0.85"/>
<path d="M286.40 250.79 L286.40 262.88 M284.40 250.79 L288.40 250.79 M284.40 262.88 L288.40 262.88" fill="none" stroke="#111" stroke-width="0.85"/>
<path d="M307.75 240.29 L307.75 250.77 M305.75 240.29 L309.75 240.29 M305.75 250.77 L309.75 250.77" fill="none" stroke="#111" stroke-width="0.85"/>
<polyline points="72.90,332.31 94.25,304.46 115.60,281.05 136.95,282.26 158.30,284.68 179.65,270.56 201.00,261.27 222.35,299.62 243.70,262.89 265.05,254.01 286.40,277.82 307.75,256.43" fill="none" stroke="#000" stroke-width="1.9" stroke-linejoin="round"/>
<polyline points="72.90,326.66 94.25,309.30 115.60,275.40 136.95,267.73 158.30,266.12 179.65,262.89 201.00,260.87 222.35,295.58 243.70,259.26 265.05,255.22 286.40,262.89 307.75,252.80" fill="none" stroke="#000" stroke-width="1.9" stroke-linejoin="round"/>
<polyline points="72.90,321.01 94.25,309.71 115.60,261.27 136.95,258.45 158.30,264.91 179.65,264.91 201.00,258.45 222.35,294.37 243.70,254.41 265.05,249.97 286.40,256.83 307.75,245.53" fill="none" stroke="#000" stroke-width="1.9" stroke-linejoin="round"/>
<path d="M72.90 328.31 L76.40 335.51 L69.40 335.51 Z" fill="#fff" stroke="#000" stroke-width="0.9"/>
<path d="M94.25 300.46 L97.75 307.66 L90.75 307.66 Z" fill="#fff" stroke="#000" stroke-width="0.9"/>
<path d="M115.60 277.05 L119.10 284.25 L112.10 284.25 Z" fill="#fff" stroke="#000" stroke-width="0.9"/>
<path d="M136.95 278.26 L140.45 285.46 L133.45 285.46 Z" fill="#fff" stroke="#000" stroke-width="0.9"/>
<path d="M158.30 280.68 L161.80 287.88 L154.80 287.88 Z" fill="#fff" stroke="#000" stroke-width="0.9"/>
<path d="M179.65 266.56 L183.15 273.76 L176.15 273.76 Z" fill="#fff" stroke="#000" stroke-width="0.9"/>
<path d="M201.00 257.27 L204.50 264.47 L197.50 264.47 Z" fill="#fff" stroke="#000" stroke-width="0.9"/>
<path d="M222.35 295.62 L225.85 302.82 L218.85 302.82 Z" fill="#fff" stroke="#000" stroke-width="0.9"/>
<path d="M243.70 258.89 L247.20 266.09 L240.20 266.09 Z" fill="#fff" stroke="#000" stroke-width="0.9"/>
<path d="M265.05 250.01 L268.55 257.21 L261.55 257.21 Z" fill="#fff" stroke="#000" stroke-width="0.9"/>
<path d="M286.40 273.82 L289.90 281.02 L282.90 281.02 Z" fill="#fff" stroke="#000" stroke-width="0.9"/>
<path d="M307.75 252.43 L311.25 259.63 L304.25 259.63 Z" fill="#fff" stroke="#000" stroke-width="0.9"/>
<path d="M69.90 323.66 L75.90 329.66 M69.90 329.66 L75.90 323.66 M72.90 323.66 L72.90 329.66" fill="none" stroke="#000" stroke-width="0.8"/>
<path d="M91.25 306.30 L97.25 312.30 M91.25 312.30 L97.25 306.30 M94.25 306.30 L94.25 312.30" fill="none" stroke="#000" stroke-width="0.8"/>
<path d="M112.60 272.40 L118.60 278.40 M112.60 278.40 L118.60 272.40 M115.60 272.40 L115.60 278.40" fill="none" stroke="#000" stroke-width="0.8"/>
<path d="M133.95 264.73 L139.95 270.73 M133.95 270.73 L139.95 264.73 M136.95 264.73 L136.95 270.73" fill="none" stroke="#000" stroke-width="0.8"/>
<path d="M155.30 263.12 L161.30 269.12 M155.30 269.12 L161.30 263.12 M158.30 263.12 L158.30 269.12" fill="none" stroke="#000" stroke-width="0.8"/>
<path d="M176.65 259.89 L182.65 265.89 M176.65 265.89 L182.65 259.89 M179.65 259.89 L179.65 265.89" fill="none" stroke="#000" stroke-width="0.8"/>
<path d="M198.00 257.87 L204.00 263.87 M198.00 263.87 L204.00 257.87 M201.00 257.87 L201.00 263.87" fill="none" stroke="#000" stroke-width="0.8"/>
<path d="M219.35 292.58 L225.35 298.58 M219.35 298.58 L225.35 292.58 M222.35 292.58 L222.35 298.58" fill="none" stroke="#000" stroke-width="0.8"/>
<path d="M240.70 256.26 L246.70 262.26 M240.70 262.26 L246.70 256.26 M243.70 256.26 L243.70 262.26" fill="none" stroke="#000" stroke-width="0.8"/>
<path d="M262.05 252.22 L268.05 258.22 M262.05 258.22 L268.05 252.22 M265.05 252.22 L265.05 258.22" fill="none" stroke="#000" stroke-width="0.8"/>
<path d="M283.40 259.89 L289.40 265.89 M283.40 265.89 L289.40 259.89 M286.40 259.89 L286.40 265.89" fill="none" stroke="#000" stroke-width="0.8"/>
<path d="M304.75 249.80 L310.75 255.80 M304.75 255.80 L310.75 249.80 M307.75 249.80 L307.75 255.80" fill="none" stroke="#000" stroke-width="0.8"/>
<rect x="69.70" y="317.81" width="6.40" height="6.40" fill="#000" stroke="#000" stroke-width="0.8"/>
<rect x="91.05" y="306.51" width="6.40" height="6.40" fill="#000" stroke="#000" stroke-width="0.8"/>
<rect x="112.40" y="258.07" width="6.40" height="6.40" fill="#000" stroke="#000" stroke-width="0.8"/>
<rect x="133.75" y="255.25" width="6.40" height="6.40" fill="#000" stroke="#000" stroke-width="0.8"/>
<rect x="155.10" y="261.71" width="6.40" height="6.40" fill="#000" stroke="#000" stroke-width="0.8"/>
<rect x="176.45" y="261.71" width="6.40" height="6.40" fill="#000" stroke="#000" stroke-width="0.8"/>
<rect x="197.80" y="255.25" width="6.40" height="6.40" fill="#000" stroke="#000" stroke-width="0.8"/>
<rect x="219.15" y="291.17" width="6.40" height="6.40" fill="#000" stroke="#000" stroke-width="0.8"/>
<rect x="240.50" y="251.21" width="6.40" height="6.40" fill="#000" stroke="#000" stroke-width="0.8"/>
<rect x="261.85" y="246.77" width="6.40" height="6.40" fill="#000" stroke="#000" stroke-width="0.8"/>
<rect x="283.20" y="253.63" width="6.40" height="6.40" fill="#000" stroke="#000" stroke-width="0.8"/>
<rect x="304.55" y="242.33" width="6.40" height="6.40" fill="#000" stroke="#000" stroke-width="0.8"/>
<line x1="65.00" y1="212.60" x2="84.70" y2="212.60" stroke="#000" stroke-width="1.7"/>
<rect x="71.85" y="209.60" width="6.00" height="6.00" fill="#000" stroke="#000" stroke-width="0.8"/>
<text x="86.20" y="215.70" font-size="9.5">NASH</text>
<line x1="65.00" y1="225.10" x2="84.70" y2="225.10" stroke="#000" stroke-width="1.7"/>
<path d="M74.85 222.20 L77.65 228.00 L72.05 228.00 Z" fill="#fff" stroke="#000" stroke-width="0.9"/>
<text x="86.20" y="228.20" font-size="9.5">NASH+LBP</text>
<line x1="65.00" y1="238.20" x2="84.70" y2="238.20" stroke="#000" stroke-width="1.7"/>
<path d="M71.85 235.20 L77.85 241.20 M71.85 241.20 L77.85 235.20 M74.85 235.20 L74.85 241.20" fill="none" stroke="#000" stroke-width="0.8"/>
<text x="86.20" y="241.30" font-size="9.5">NASH+TLBP</text>
<text x="115.60" y="254.49" font-size="11.5" text-anchor="middle" fill="#111">*</text>
<text x="137.00" y="252.49" font-size="11.5" text-anchor="middle" fill="#111">*</text>
<text x="286.40" y="250.49" font-size="11.5" text-anchor="middle" fill="#111">*</text>
<path d="M226.30 328.00 L226.30 308.80 M223.00 313.00 L226.30 308.80 L229.60 313.00" fill="none" stroke="#000" stroke-width="1.7"/>
<text x="206.20" y="341.40" font-size="11.3">Start TLBP administration</text>
<line x1="61.60" y1="498.90" x2="61.60" y2="651.90" stroke="#868686" stroke-width="0.75"/>
<line x1="61.60" y1="651.90" x2="324.16" y2="651.90" stroke="#868686" stroke-width="0.75"/>
<line x1="59.10" y1="651.90" x2="61.60" y2="651.90" stroke="#868686" stroke-width="0.75"/>
<line x1="59.10" y1="626.40" x2="61.60" y2="626.40" stroke="#868686" stroke-width="0.75"/>
<line x1="59.10" y1="600.90" x2="61.60" y2="600.90" stroke="#868686" stroke-width="0.75"/>
<line x1="59.10" y1="575.40" x2="61.60" y2="575.40" stroke="#868686" stroke-width="0.75"/>
<line x1="59.10" y1="549.90" x2="61.60" y2="549.90" stroke="#868686" stroke-width="0.75"/>
<line x1="59.10" y1="524.40" x2="61.60" y2="524.40" stroke="#868686" stroke-width="0.75"/>
<line x1="59.10" y1="498.90" x2="61.60" y2="498.90" stroke="#868686" stroke-width="0.75"/>
<line x1="61.60" y1="651.90" x2="61.60" y2="654.40" stroke="#868686" stroke-width="0.75"/>
<line x1="105.36" y1="651.90" x2="105.36" y2="654.40" stroke="#868686" stroke-width="0.75"/>
<line x1="149.12" y1="651.90" x2="149.12" y2="654.40" stroke="#868686" stroke-width="0.75"/>
<line x1="192.88" y1="651.90" x2="192.88" y2="654.40" stroke="#868686" stroke-width="0.75"/>
<line x1="236.64" y1="651.90" x2="236.64" y2="654.40" stroke="#868686" stroke-width="0.75"/>
<line x1="280.40" y1="651.90" x2="280.40" y2="654.40" stroke="#868686" stroke-width="0.75"/>
<line x1="324.16" y1="651.90" x2="324.16" y2="654.40" stroke="#868686" stroke-width="0.75"/>
<text x="54.00" y="655.05" font-size="9.5" text-anchor="end" fill="#222">0</text>
<text x="54.00" y="629.55" font-size="9.5" text-anchor="end" fill="#222">1</text>
<text x="54.00" y="604.05" font-size="9.5" text-anchor="end" fill="#222">2</text>
<text x="54.00" y="578.55" font-size="9.5" text-anchor="end" fill="#222">3</text>
<text x="54.00" y="553.05" font-size="9.5" text-anchor="end" fill="#222">4</text>
<text x="54.00" y="527.55" font-size="9.5" text-anchor="end" fill="#222">5</text>
<text x="54.00" y="502.05" font-size="9.5" text-anchor="end" fill="#222">6</text>
<text x="83.70" y="666.70" font-size="9.5" text-anchor="middle" fill="#111">0 min</text>
<text x="127.46" y="666.70" font-size="9.5" text-anchor="middle" fill="#111">20 min</text>
<text x="171.22" y="666.70" font-size="9.5" text-anchor="middle" fill="#111">40 min</text>
<text x="214.98" y="666.70" font-size="9.5" text-anchor="middle" fill="#111">60 min</text>
<text x="258.74" y="666.70" font-size="9.5" text-anchor="middle" fill="#111">80 min</text>
<text x="302.50" y="666.70" font-size="9.5" text-anchor="middle" fill="#111">100 min</text>
<text x="39.60" y="571.00" font-size="9.3" text-anchor="middle" font-weight="bold" transform="rotate(-90 39.60 571.00)">Glucose level (mM)</text>
<path d="M83.70 532.82 L83.70 549.13 M81.70 532.82 L85.70 532.82 M81.70 549.13 L85.70 549.13" fill="none" stroke="#111" stroke-width="0.85"/>
<path d="M127.46 547.86 L127.46 559.08 M125.46 547.86 L129.46 547.86 M125.46 559.08 L129.46 559.08" fill="none" stroke="#111" stroke-width="0.85"/>
<path d="M171.22 591.47 L171.22 596.56 M169.22 591.47 L173.22 591.47 M169.22 596.56 L173.22 596.56" fill="none" stroke="#111" stroke-width="0.85"/>
<path d="M214.98 590.70 L214.98 598.35 M212.98 590.70 L216.98 590.70 M212.98 598.35 L216.98 598.35" fill="none" stroke="#111" stroke-width="0.85"/>
<path d="M258.74 596.57 L258.74 602.68 M256.74 596.57 L260.74 596.57 M256.74 602.68 L260.74 602.68" fill="none" stroke="#111" stroke-width="0.85"/>
<path d="M302.50 595.29 L302.50 601.41 M300.50 595.29 L304.50 595.29 M300.50 601.41 L304.50 601.41" fill="none" stroke="#111" stroke-width="0.85"/>
<path d="M83.70 516.75 L83.70 526.95 M81.70 516.75 L85.70 516.75 M81.70 526.95 L85.70 526.95" fill="none" stroke="#111" stroke-width="0.85"/>
<path d="M127.46 528.48 L127.46 536.13 M125.46 528.48 L129.46 528.48 M125.46 536.13 L129.46 536.13" fill="none" stroke="#111" stroke-width="0.85"/>
<path d="M171.22 582.03 L171.22 588.15 M169.22 582.03 L173.22 582.03 M169.22 588.15 L173.22 588.15" fill="none" stroke="#111" stroke-width="0.85"/>
<path d="M214.98 589.42 L214.98 597.08 M212.98 589.42 L216.98 589.42 M212.98 597.08 L216.98 597.08" fill="none" stroke="#111" stroke-width="0.85"/>
<path d="M258.74 596.56 L258.74 604.22 M256.74 596.56 L260.74 596.56 M256.74 604.22 L260.74 604.22" fill="none" stroke="#111" stroke-width="0.85"/>
<path d="M302.50 589.68 L302.50 600.90 M300.50 589.68 L304.50 589.68 M300.50 600.90 L304.50 600.90" fill="none" stroke="#111" stroke-width="0.85"/>
<path d="M83.70 510.88 L83.70 528.73 M81.70 510.88 L85.70 510.88 M81.70 528.73 L85.70 528.73" fill="none" stroke="#111" stroke-width="0.85"/>
<path d="M127.46 533.83 L127.46 544.03 M125.46 533.83 L129.46 533.83 M125.46 544.03 L129.46 544.03" fill="none" stroke="#111" stroke-width="0.85"/>
<path d="M171.22 572.85 L171.22 585.60 M169.22 572.85 L173.22 572.85 M169.22 585.60 L173.22 585.60" fill="none" stroke="#111" stroke-width="0.85"/>
<path d="M214.98 583.82 L214.98 601.66 M212.98 583.82 L216.98 583.82 M212.98 601.66 L216.98 601.66" fill="none" stroke="#111" stroke-width="0.85"/>
<path d="M258.74 591.46 L258.74 604.21 M256.74 591.46 L260.74 591.46 M256.74 604.21 L260.74 604.21" fill="none" stroke="#111" stroke-width="0.85"/>
<path d="M302.50 589.93 L302.50 604.21 M300.50 589.93 L304.50 589.93 M300.50 604.21 L304.50 604.21" fill="none" stroke="#111" stroke-width="0.85"/>
<path d="M83.70 514.45 L83.70 522.11 M81.70 514.45 L85.70 514.45 M81.70 522.11 L85.70 522.11" fill="none" stroke="#111" stroke-width="0.85"/>
<path d="M127.46 522.11 L127.46 528.22 M125.46 522.11 L129.46 522.11 M125.46 528.22 L129.46 528.22" fill="none" stroke="#111" stroke-width="0.85"/>
<path d="M171.22 548.62 L171.22 556.27 M169.22 548.62 L173.22 548.62 M169.22 556.27 L173.22 556.27" fill="none" stroke="#111" stroke-width="0.85"/>
<path d="M214.98 569.28 L214.98 578.46 M212.98 569.28 L216.98 569.28 M212.98 578.46 L216.98 578.46" fill="none" stroke="#111" stroke-width="0.85"/>
<path d="M258.74 565.45 L258.74 578.20 M256.74 565.45 L260.74 565.45 M256.74 578.20 L260.74 578.20" fill="none" stroke="#111" stroke-width="0.85"/>
<path d="M302.50 569.02 L302.50 579.23 M300.50 569.02 L304.50 569.02 M300.50 579.23 L304.50 579.23" fill="none" stroke="#111" stroke-width="0.85"/>
<polyline points="83.70,540.98 127.46,553.47 171.22,594.01 214.98,594.52 258.74,599.62 302.50,598.35" fill="none" stroke="#000" stroke-width="1.9" stroke-linejoin="round"/>
<polyline points="83.70,521.85 127.46,532.30 171.22,585.09 214.98,593.25 258.74,600.39 302.50,595.29" fill="none" stroke="#000" stroke-width="1.9" stroke-linejoin="round"/>
<polyline points="83.70,519.81 127.46,538.93 171.22,579.23 214.98,592.74 258.74,597.84 302.50,597.07" fill="none" stroke="#000" stroke-width="1.9" stroke-linejoin="round"/>
<polyline points="83.70,518.28 127.46,525.16 171.22,552.45 214.98,573.87 258.74,571.83 302.50,574.12" fill="none" stroke="#000" stroke-width="1.9" stroke-linejoin="round"/>
<circle cx="83.70" cy="518.28" r="3.40" fill="#000" stroke="#000" stroke-width="0.8"/>
<circle cx="127.46" cy="525.16" r="3.40" fill="#000" stroke="#000" stroke-width="0.8"/>
<circle cx="171.22" cy="552.45" r="3.40" fill="#000" stroke="#000" stroke-width="0.8"/>
<circle cx="214.98" cy="573.87" r="3.40" fill="#000" stroke="#000" stroke-width="0.8"/>
<circle cx="258.74" cy="571.83" r="3.40" fill="#000" stroke="#000" stroke-width="0.8"/>
<circle cx="302.50" cy="574.12" r="3.40" fill="#000" stroke="#000" stroke-width="0.8"/>
<path d="M83.70 517.95 L87.10 524.95 L80.30 524.95 Z" fill="#000" stroke="#000" stroke-width="0.8"/>
<path d="M127.46 528.40 L130.86 535.40 L124.06 535.40 Z" fill="#000" stroke="#000" stroke-width="0.8"/>
<path d="M171.22 581.19 L174.62 588.19 L167.82 588.19 Z" fill="#000" stroke="#000" stroke-width="0.8"/>
<path d="M214.98 589.35 L218.38 596.35 L211.58 596.35 Z" fill="#000" stroke="#000" stroke-width="0.8"/>
<path d="M258.74 596.49 L262.14 603.49 L255.34 603.49 Z" fill="#000" stroke="#000" stroke-width="0.8"/>
<path d="M302.50 591.39 L305.90 598.39 L299.10 598.39 Z" fill="#000" stroke="#000" stroke-width="0.8"/>
<circle cx="83.70" cy="540.98" r="3.40" fill="#fff" stroke="#000" stroke-width="0.9"/>
<circle cx="127.46" cy="553.47" r="3.40" fill="#fff" stroke="#000" stroke-width="0.9"/>
<circle cx="171.22" cy="594.01" r="3.40" fill="#fff" stroke="#000" stroke-width="0.9"/>
<circle cx="214.98" cy="594.52" r="3.40" fill="#fff" stroke="#000" stroke-width="0.9"/>
<circle cx="258.74" cy="599.62" r="3.40" fill="#fff" stroke="#000" stroke-width="0.9"/>
<circle cx="302.50" cy="598.35" r="3.40" fill="#fff" stroke="#000" stroke-width="0.9"/>
<rect x="80.50" y="516.61" width="6.40" height="6.40" fill="#fff" stroke="#000" stroke-width="0.9"/>
<rect x="124.26" y="535.73" width="6.40" height="6.40" fill="#fff" stroke="#000" stroke-width="0.9"/>
<rect x="168.02" y="576.02" width="6.40" height="6.40" fill="#fff" stroke="#000" stroke-width="0.9"/>
<rect x="211.78" y="589.54" width="6.40" height="6.40" fill="#fff" stroke="#000" stroke-width="0.9"/>
<rect x="255.54" y="594.64" width="6.40" height="6.40" fill="#fff" stroke="#000" stroke-width="0.9"/>
<rect x="299.30" y="593.87" width="6.40" height="6.40" fill="#fff" stroke="#000" stroke-width="0.9"/>
<line x1="232.40" y1="500.00" x2="251.00" y2="500.00" stroke="#000" stroke-width="1.7"/>
<circle cx="241.70" cy="500.00" r="2.90" fill="#fff" stroke="#000" stroke-width="0.9"/>
<text x="252.50" y="503.10" font-size="9.5">Control</text>
<line x1="232.40" y1="512.90" x2="251.00" y2="512.90" stroke="#000" stroke-width="1.7"/>
<circle cx="241.70" cy="512.90" r="2.80" fill="#000" stroke="#000" stroke-width="0.8"/>
<text x="252.50" y="516.00" font-size="9.5">NASH</text>
<line x1="232.40" y1="525.70" x2="251.00" y2="525.70" stroke="#000" stroke-width="1.7"/>
<path d="M241.70 523.10 L244.20 528.30 L239.20 528.30 Z" fill="#000" stroke="#000" stroke-width="0.8"/>
<text x="252.50" y="528.80" font-size="9.5">NASH+LBP</text>
<line x1="232.40" y1="538.50" x2="251.00" y2="538.50" stroke="#000" stroke-width="1.7"/>
<rect x="238.80" y="535.60" width="5.80" height="5.80" fill="#fff" stroke="#000" stroke-width="0.9"/>
<text x="252.50" y="541.60" font-size="9.5">NASH+TLBP</text>
<text x="83.70" y="509.10" font-size="10.5" text-anchor="middle" fill="#111">*</text>
<text x="124.40" y="522.08" font-size="12.5" text-anchor="middle" fill="#111">*</text>
<text x="168.00" y="548.88" font-size="12.5" text-anchor="middle" fill="#111">*</text>
<text x="211.00" y="569.88" font-size="12.5" text-anchor="middle" fill="#111">*</text>
<text x="254.80" y="565.88" font-size="12.5" text-anchor="middle" fill="#111">*</text>
<text x="298.20" y="570.27" font-size="12.5" text-anchor="middle" fill="#111">*</text>
<text x="130.70" y="520.34" font-size="8" text-anchor="middle" fill="#111">#</text>
<text x="174.60" y="546.84" font-size="8" text-anchor="middle" fill="#111">#</text>
<text x="218.30" y="567.74" font-size="8" text-anchor="middle" fill="#111">#</text>
<text x="262.30" y="563.74" font-size="8" text-anchor="middle" fill="#111">#</text>
<text x="305.80" y="567.94" font-size="8" text-anchor="middle" fill="#111">#</text>
<line x1="410.30" y1="501.88" x2="410.30" y2="651.40" stroke="#868686" stroke-width="0.75"/>
<line x1="410.30" y1="651.40" x2="636.82" y2="651.40" stroke="#868686" stroke-width="0.75"/>
<line x1="407.80" y1="651.40" x2="410.30" y2="651.40" stroke="#868686" stroke-width="0.75"/>
<line x1="407.80" y1="632.71" x2="410.30" y2="632.71" stroke="#868686" stroke-width="0.75"/>
<line x1="407.80" y1="614.02" x2="410.30" y2="614.02" stroke="#868686" stroke-width="0.75"/>
<line x1="407.80" y1="595.33" x2="410.30" y2="595.33" stroke="#868686" stroke-width="0.75"/>
<line x1="407.80" y1="576.64" x2="410.30" y2="576.64" stroke="#868686" stroke-width="0.75"/>
<line x1="407.80" y1="557.95" x2="410.30" y2="557.95" stroke="#868686" stroke-width="0.75"/>
<line x1="407.80" y1="539.26" x2="410.30" y2="539.26" stroke="#868686" stroke-width="0.75"/>
<line x1="407.80" y1="520.57" x2="410.30" y2="520.57" stroke="#868686" stroke-width="0.75"/>
<line x1="407.80" y1="501.88" x2="410.30" y2="501.88" stroke="#868686" stroke-width="0.75"/>
<line x1="410.30" y1="651.40" x2="410.30" y2="653.90" stroke="#868686" stroke-width="0.75"/>
<line x1="466.93" y1="651.40" x2="466.93" y2="653.90" stroke="#868686" stroke-width="0.75"/>
<line x1="523.56" y1="651.40" x2="523.56" y2="653.90" stroke="#868686" stroke-width="0.75"/>
<line x1="580.19" y1="651.40" x2="580.19" y2="653.90" stroke="#868686" stroke-width="0.75"/>
<line x1="636.82" y1="651.40" x2="636.82" y2="653.90" stroke="#868686" stroke-width="0.75"/>
<text x="402.70" y="654.55" font-size="9.5" text-anchor="end" fill="#222">0</text>
<text x="402.70" y="635.86" font-size="9.5" text-anchor="end" fill="#222">20</text>
<text x="402.70" y="617.17" font-size="9.5" text-anchor="end" fill="#222">40</text>
<text x="402.70" y="598.48" font-size="9.5" text-anchor="end" fill="#222">60</text>
<text x="402.70" y="579.79" font-size="9.5" text-anchor="end" fill="#222">80</text>
<text x="402.70" y="561.10" font-size="9.5" text-anchor="end" fill="#222">100</text>
<text x="402.70" y="542.41" font-size="9.5" text-anchor="end" fill="#222">120</text>
<text x="402.70" y="523.72" font-size="9.5" text-anchor="end" fill="#222">140</text>
<text x="402.70" y="505.03" font-size="9.5" text-anchor="end" fill="#222">160</text>
<text x="377.40" y="576.00" font-size="9.3" text-anchor="middle" font-weight="bold" transform="rotate(-90 377.40 576.00)">AUCglucose (mM*100 min)</text>
<path d="M438.70 562.16 L438.70 553.60 M436.80 553.60 L440.60 553.60" fill="none" stroke="#111" stroke-width="0.9"/>
<rect x="427.05" y="562.16" width="23.30" height="89.24" fill="#000"/>
<text x="438.70" y="551.00" font-size="13.5" text-anchor="middle">a</text>
<text x="438.70" y="666.00" font-size="9.5" text-anchor="middle">Control</text>
<path d="M495.40 527.20 L495.40 517.20 M493.50 517.20 L497.30 517.20" fill="none" stroke="#111" stroke-width="0.9"/>
<rect x="483.75" y="527.20" width="23.30" height="124.20" fill="#000"/>
<text x="495.40" y="516.00" font-size="13.5" text-anchor="middle">b</text>
<text x="495.40" y="666.00" font-size="9.5" text-anchor="middle">NASH</text>
<path d="M552.00 552.06 L552.00 544.00 M550.10 544.00 L553.90 544.00" fill="none" stroke="#111" stroke-width="0.9"/>
<rect x="540.35" y="552.06" width="23.30" height="99.34" fill="#000"/>
<text x="552.00" y="542.30" font-size="13.5" text-anchor="middle">a</text>
<text x="552.00" y="666.00" font-size="9.5" text-anchor="middle">NASH+LBP</text>
<path d="M608.70 551.60 L608.70 541.00 M606.80 541.00 L610.60 541.00" fill="none" stroke="#111" stroke-width="0.9"/>
<rect x="597.05" y="551.60" width="23.30" height="99.80" fill="#000"/>
<text x="608.70" y="539.80" font-size="13.5" text-anchor="middle">a</text>
<text x="608.70" y="666.00" font-size="9.5" text-anchor="middle">NASH+TLBP</text>
<line x1="410.30" y1="651.40" x2="636.82" y2="651.40" stroke="#868686" stroke-width="0.75"/>
<line x1="62.30" y1="719.14" x2="62.30" y2="868.50" stroke="#868686" stroke-width="0.75"/>
<line x1="62.30" y1="868.50" x2="330.50" y2="868.50" stroke="#868686" stroke-width="0.75"/>
<line x1="59.80" y1="868.50" x2="62.30" y2="868.50" stroke="#868686" stroke-width="0.75"/>
<line x1="59.80" y1="849.83" x2="62.30" y2="849.83" stroke="#868686" stroke-width="0.75"/>
<line x1="59.80" y1="831.16" x2="62.30" y2="831.16" stroke="#868686" stroke-width="0.75"/>
<line x1="59.80" y1="812.49" x2="62.30" y2="812.49" stroke="#868686" stroke-width="0.75"/>
<line x1="59.80" y1="793.82" x2="62.30" y2="793.82" stroke="#868686" stroke-width="0.75"/>
<line x1="59.80" y1="775.15" x2="62.30" y2="775.15" stroke="#868686" stroke-width="0.75"/>
<line x1="59.80" y1="756.48" x2="62.30" y2="756.48" stroke="#868686" stroke-width="0.75"/>
<line x1="59.80" y1="737.81" x2="62.30" y2="737.81" stroke="#868686" stroke-width="0.75"/>
<line x1="59.80" y1="719.14" x2="62.30" y2="719.14" stroke="#868686" stroke-width="0.75"/>
<line x1="62.30" y1="868.50" x2="62.30" y2="871.00" stroke="#868686" stroke-width="0.75"/>
<line x1="107.00" y1="868.50" x2="107.00" y2="871.00" stroke="#868686" stroke-width="0.75"/>
<line x1="151.70" y1="868.50" x2="151.70" y2="871.00" stroke="#868686" stroke-width="0.75"/>
<line x1="196.40" y1="868.50" x2="196.40" y2="871.00" stroke="#868686" stroke-width="0.75"/>
<line x1="241.10" y1="868.50" x2="241.10" y2="871.00" stroke="#868686" stroke-width="0.75"/>
<line x1="285.80" y1="868.50" x2="285.80" y2="871.00" stroke="#868686" stroke-width="0.75"/>
<line x1="330.50" y1="868.50" x2="330.50" y2="871.00" stroke="#868686" stroke-width="0.75"/>
<text x="54.70" y="871.65" font-size="9.5" text-anchor="end" fill="#222">0</text>
<text x="54.70" y="852.98" font-size="9.5" text-anchor="end" fill="#222">1</text>
<text x="54.70" y="834.31" font-size="9.5" text-anchor="end" fill="#222">2</text>
<text x="54.70" y="815.64" font-size="9.5" text-anchor="end" fill="#222">3</text>
<text x="54.70" y="796.97" font-size="9.5" text-anchor="end" fill="#222">4</text>
<text x="54.70" y="778.30" font-size="9.5" text-anchor="end" fill="#222">5</text>
<text x="54.70" y="759.63" font-size="9.5" text-anchor="end" fill="#222">6</text>
<text x="54.70" y="740.96" font-size="9.5" text-anchor="end" fill="#222">7</text>
<text x="54.70" y="722.29" font-size="9.5" text-anchor="end" fill="#222">8</text>
<text x="85.40" y="881.80" font-size="9.5" text-anchor="middle" fill="#111">0 min</text>
<text x="130.08" y="881.80" font-size="9.5" text-anchor="middle" fill="#111">20 min</text>
<text x="174.76" y="881.80" font-size="9.5" text-anchor="middle" fill="#111">40 min</text>
<text x="219.44" y="881.80" font-size="9.5" text-anchor="middle" fill="#111">60 min</text>
<text x="264.12" y="881.80" font-size="9.5" text-anchor="middle" fill="#111">80 min</text>
<text x="308.80" y="881.80" font-size="9.5" text-anchor="middle" fill="#111">100 min</text>
<text x="40.80" y="798.00" font-size="9.3" text-anchor="middle" font-weight="bold" transform="rotate(-90 40.80 798.00)">Normalized  glucose level (mM)</text>
<path d="M85.40 851.70 L85.40 862.90 M83.40 851.70 L87.40 851.70 M83.40 862.90 L87.40 862.90" fill="none" stroke="#111" stroke-width="0.85"/>
<path d="M130.08 790.27 L130.08 795.87 M128.08 790.27 L132.08 790.27 M128.08 795.87 L132.08 795.87" fill="none" stroke="#111" stroke-width="0.85"/>
<path d="M174.76 792.89 L174.76 797.37 M172.76 792.89 L176.76 792.89 M172.76 797.37 L176.76 797.37" fill="none" stroke="#111" stroke-width="0.85"/>
<path d="M219.44 809.32 L219.44 814.92 M217.44 809.32 L221.44 809.32 M217.44 814.92 L221.44 814.92" fill="none" stroke="#111" stroke-width="0.85"/>
<path d="M264.12 811.93 L264.12 817.53 M262.12 811.93 L266.12 811.93 M262.12 817.53 L266.12 817.53" fill="none" stroke="#111" stroke-width="0.85"/>
<path d="M308.80 818.84 L308.80 823.32 M306.80 818.84 L310.80 818.84 M306.80 823.32 L310.80 823.32" fill="none" stroke="#111" stroke-width="0.85"/>
<path d="M85.40 847.96 L85.40 866.63 M83.40 847.96 L87.40 847.96 M83.40 866.63 L87.40 866.63" fill="none" stroke="#111" stroke-width="0.85"/>
<path d="M130.08 777.02 L130.08 786.35 M128.08 777.02 L132.08 777.02 M128.08 786.35 L132.08 786.35" fill="none" stroke="#111" stroke-width="0.85"/>
<path d="M174.76 798.86 L174.76 806.33 M172.76 798.86 L176.76 798.86 M172.76 806.33 L176.76 806.33" fill="none" stroke="#111" stroke-width="0.85"/>
<path d="M219.44 817.72 L219.44 825.19 M217.44 817.72 L221.44 817.72 M217.44 825.19 L221.44 825.19" fill="none" stroke="#111" stroke-width="0.85"/>
<path d="M264.12 828.36 L264.12 835.83 M262.12 828.36 L266.12 828.36 M262.12 835.83 L266.12 835.83" fill="none" stroke="#111" stroke-width="0.85"/>
<path d="M308.80 825.56 L308.80 836.76 M306.80 825.56 L310.80 825.56 M306.80 836.76 L310.80 836.76" fill="none" stroke="#111" stroke-width="0.85"/>
<path d="M85.40 851.88 L85.40 863.09 M83.40 851.88 L87.40 851.88 M83.40 863.09 L87.40 863.09" fill="none" stroke="#111" stroke-width="0.85"/>
<path d="M130.08 768.80 L130.08 778.14 M128.08 768.80 L132.08 768.80 M128.08 778.14 L132.08 778.14" fill="none" stroke="#111" stroke-width="0.85"/>
<path d="M174.76 814.36 L174.76 819.96 M172.76 814.36 L176.76 814.36 M172.76 819.96 L176.76 819.96" fill="none" stroke="#111" stroke-width="0.85"/>
<path d="M219.44 818.65 L219.44 827.99 M217.44 818.65 L221.44 818.65 M217.44 827.99 L221.44 827.99" fill="none" stroke="#111" stroke-width="0.85"/>
<path d="M264.12 822.95 L264.12 841.62 M262.12 822.95 L266.12 822.95 M262.12 841.62 L266.12 841.62" fill="none" stroke="#111" stroke-width="0.85"/>
<path d="M308.80 824.25 L308.80 835.45 M306.80 824.25 L310.80 824.25 M306.80 835.45 L310.80 835.45" fill="none" stroke="#111" stroke-width="0.85"/>
<path d="M85.40 851.32 L85.40 862.53 M83.40 851.32 L87.40 851.32 M83.40 862.53 L87.40 862.53" fill="none" stroke="#111" stroke-width="0.85"/>
<path d="M130.08 735.20 L130.08 753.87 M128.08 735.20 L132.08 735.20 M128.08 753.87 L132.08 753.87" fill="none" stroke="#111" stroke-width="0.85"/>
<path d="M174.76 755.55 L174.76 776.08 M172.76 755.55 L176.76 755.55 M172.76 776.08 L176.76 776.08" fill="none" stroke="#111" stroke-width="0.85"/>
<path d="M219.44 783.74 L219.44 800.54 M217.44 783.74 L221.44 783.74 M217.44 800.54 L221.44 800.54" fill="none" stroke="#111" stroke-width="0.85"/>
<path d="M264.12 804.65 L264.12 815.85 M262.12 804.65 L266.12 804.65 M262.12 815.85 L266.12 815.85" fill="none" stroke="#111" stroke-width="0.85"/>
<path d="M308.80 803.72 L308.80 814.17 M306.80 803.72 L310.80 803.72 M306.80 814.17 L310.80 814.17" fill="none" stroke="#111" stroke-width="0.85"/>
<polyline points="85.40,857.30 130.08,793.07 174.76,795.13 219.44,812.12 264.12,814.73 308.80,821.08" fill="none" stroke="#000" stroke-width="1.9" stroke-linejoin="round"/>
<polyline points="85.40,857.30 130.08,781.68 174.76,802.59 219.44,821.45 264.12,832.09 308.80,831.16" fill="none" stroke="#000" stroke-width="1.9" stroke-linejoin="round"/>
<polyline points="85.40,857.48 130.08,773.47 174.76,817.16 219.44,823.32 264.12,832.28 308.80,829.85" fill="none" stroke="#000" stroke-width="1.9" stroke-linejoin="round"/>
<polyline points="85.40,856.92 130.08,744.53 174.76,765.82 219.44,792.14 264.12,810.25 308.80,808.94" fill="none" stroke="#000" stroke-width="1.9" stroke-linejoin="round"/>
<circle cx="85.40" cy="856.92" r="3.40" fill="#000" stroke="#000" stroke-width="0.8"/>
<circle cx="130.08" cy="744.53" r="3.40" fill="#000" stroke="#000" stroke-width="0.8"/>
<circle cx="174.76" cy="765.82" r="3.40" fill="#000" stroke="#000" stroke-width="0.8"/>
<circle cx="219.44" cy="792.14" r="3.40" fill="#000" stroke="#000" stroke-width="0.8"/>
<circle cx="264.12" cy="810.25" r="3.40" fill="#000" stroke="#000" stroke-width="0.8"/>
<circle cx="308.80" cy="808.94" r="3.40" fill="#000" stroke="#000" stroke-width="0.8"/>
<path d="M85.40 853.40 L88.80 860.40 L82.00 860.40 Z" fill="#000" stroke="#000" stroke-width="0.8"/>
<path d="M130.08 777.78 L133.48 784.78 L126.68 784.78 Z" fill="#000" stroke="#000" stroke-width="0.8"/>
<path d="M174.76 798.69 L178.16 805.69 L171.36 805.69 Z" fill="#000" stroke="#000" stroke-width="0.8"/>
<path d="M219.44 817.55 L222.84 824.55 L216.04 824.55 Z" fill="#000" stroke="#000" stroke-width="0.8"/>
<path d="M264.12 828.19 L267.52 835.19 L260.72 835.19 Z" fill="#000" stroke="#000" stroke-width="0.8"/>
<path d="M308.80 827.26 L312.20 834.26 L305.40 834.26 Z" fill="#000" stroke="#000" stroke-width="0.8"/>
<circle cx="85.40" cy="857.30" r="3.40" fill="#fff" stroke="#000" stroke-width="0.9"/>
<circle cx="130.08" cy="793.07" r="3.40" fill="#fff" stroke="#000" stroke-width="0.9"/>
<circle cx="174.76" cy="795.13" r="3.40" fill="#fff" stroke="#000" stroke-width="0.9"/>
<circle cx="219.44" cy="812.12" r="3.40" fill="#fff" stroke="#000" stroke-width="0.9"/>
<circle cx="264.12" cy="814.73" r="3.40" fill="#fff" stroke="#000" stroke-width="0.9"/>
<circle cx="308.80" cy="821.08" r="3.40" fill="#fff" stroke="#000" stroke-width="0.9"/>
<rect x="82.20" y="854.28" width="6.40" height="6.40" fill="#fff" stroke="#000" stroke-width="0.9"/>
<rect x="126.88" y="770.27" width="6.40" height="6.40" fill="#fff" stroke="#000" stroke-width="0.9"/>
<rect x="171.56" y="813.96" width="6.40" height="6.40" fill="#fff" stroke="#000" stroke-width="0.9"/>
<rect x="216.24" y="820.12" width="6.40" height="6.40" fill="#fff" stroke="#000" stroke-width="0.9"/>
<rect x="260.92" y="829.08" width="6.40" height="6.40" fill="#fff" stroke="#000" stroke-width="0.9"/>
<rect x="305.60" y="826.65" width="6.40" height="6.40" fill="#fff" stroke="#000" stroke-width="0.9"/>
<line x1="235.40" y1="715.60" x2="254.30" y2="715.60" stroke="#000" stroke-width="1.7"/>
<circle cx="244.85" cy="715.60" r="2.90" fill="#fff" stroke="#000" stroke-width="0.9"/>
<text x="256.00" y="718.70" font-size="9.5">Control</text>
<line x1="235.40" y1="729.40" x2="254.30" y2="729.40" stroke="#000" stroke-width="1.7"/>
<circle cx="244.85" cy="729.40" r="2.80" fill="#000" stroke="#000" stroke-width="0.8"/>
<text x="256.00" y="732.50" font-size="9.5">NASH</text>
<line x1="235.40" y1="743.00" x2="254.30" y2="743.00" stroke="#000" stroke-width="1.7"/>
<path d="M244.85 740.40 L247.35 745.60 L242.35 745.60 Z" fill="#000" stroke="#000" stroke-width="0.8"/>
<text x="256.00" y="746.10" font-size="9.5">NASH+LBP</text>
<line x1="235.40" y1="756.80" x2="254.30" y2="756.80" stroke="#000" stroke-width="1.7"/>
<rect x="241.95" y="753.90" width="5.80" height="5.80" fill="#fff" stroke="#000" stroke-width="0.9"/>
<text x="256.00" y="759.90" font-size="9.5">NASH+TLBP</text>
<text x="126.40" y="735.08" font-size="12.5" text-anchor="middle" fill="#111">*</text>
<text x="171.40" y="755.67" font-size="12.5" text-anchor="middle" fill="#111">*</text>
<text x="214.80" y="783.27" font-size="12.5" text-anchor="middle" fill="#111">*</text>
<text x="133.90" y="733.04" font-size="8" text-anchor="middle" fill="#111">#</text>
<text x="177.10" y="753.54" font-size="8" text-anchor="middle" fill="#111">#</text>
<text x="222.40" y="781.34" font-size="8" text-anchor="middle" fill="#111">#</text>
<line x1="412.10" y1="718.61" x2="412.10" y2="868.20" stroke="#868686" stroke-width="0.75"/>
<line x1="412.10" y1="868.20" x2="639.10" y2="868.20" stroke="#868686" stroke-width="0.75"/>
<line x1="409.60" y1="868.20" x2="412.10" y2="868.20" stroke="#868686" stroke-width="0.75"/>
<line x1="409.60" y1="846.83" x2="412.10" y2="846.83" stroke="#868686" stroke-width="0.75"/>
<line x1="409.60" y1="825.46" x2="412.10" y2="825.46" stroke="#868686" stroke-width="0.75"/>
<line x1="409.60" y1="804.09" x2="412.10" y2="804.09" stroke="#868686" stroke-width="0.75"/>
<line x1="409.60" y1="782.72" x2="412.10" y2="782.72" stroke="#868686" stroke-width="0.75"/>
<line x1="409.60" y1="761.35" x2="412.10" y2="761.35" stroke="#868686" stroke-width="0.75"/>
<line x1="409.60" y1="739.98" x2="412.10" y2="739.98" stroke="#868686" stroke-width="0.75"/>
<line x1="409.60" y1="718.61" x2="412.10" y2="718.61" stroke="#868686" stroke-width="0.75"/>
<line x1="412.10" y1="868.20" x2="412.10" y2="870.70" stroke="#868686" stroke-width="0.75"/>
<line x1="468.85" y1="868.20" x2="468.85" y2="870.70" stroke="#868686" stroke-width="0.75"/>
<line x1="525.60" y1="868.20" x2="525.60" y2="870.70" stroke="#868686" stroke-width="0.75"/>
<line x1="582.35" y1="868.20" x2="582.35" y2="870.70" stroke="#868686" stroke-width="0.75"/>
<line x1="639.10" y1="868.20" x2="639.10" y2="870.70" stroke="#868686" stroke-width="0.75"/>
<text x="404.50" y="871.35" font-size="9.5" text-anchor="end" fill="#222">0</text>
<text x="404.50" y="849.98" font-size="9.5" text-anchor="end" fill="#222">100</text>
<text x="404.50" y="828.61" font-size="9.5" text-anchor="end" fill="#222">200</text>
<text x="404.50" y="807.24" font-size="9.5" text-anchor="end" fill="#222">300</text>
<text x="404.50" y="785.87" font-size="9.5" text-anchor="end" fill="#222">400</text>
<text x="404.50" y="764.50" font-size="9.5" text-anchor="end" fill="#222">500</text>
<text x="404.50" y="743.13" font-size="9.5" text-anchor="end" fill="#222">600</text>
<text x="404.50" y="721.76" font-size="9.5" text-anchor="end" fill="#222">700</text>
<text x="377.40" y="801.70" font-size="9.3" text-anchor="middle" font-weight="bold" transform="rotate(-90 377.40 801.70)">AUCglucose (mM*100 min)</text>
<path d="M440.60 792.12 L440.60 785.00 M438.70 785.00 L442.50 785.00" fill="none" stroke="#111" stroke-width="0.9"/>
<rect x="429.10" y="792.12" width="23.00" height="76.08" fill="#000"/>
<text x="440.60" y="782.50" font-size="13.5" text-anchor="middle">a</text>
<text x="440.60" y="881.80" font-size="9.5" text-anchor="middle">Control</text>
<path d="M497.60 739.77 L497.60 729.00 M495.70 729.00 L499.50 729.00" fill="none" stroke="#111" stroke-width="0.9"/>
<rect x="486.10" y="739.77" width="23.00" height="128.43" fill="#000"/>
<text x="497.60" y="726.00" font-size="13.5" text-anchor="middle">b</text>
<text x="497.60" y="881.80" font-size="9.5" text-anchor="middle">NASH</text>
<path d="M554.00 803.88 L554.00 797.60 M552.10 797.60 L555.90 797.60" fill="none" stroke="#111" stroke-width="0.9"/>
<rect x="542.50" y="803.88" width="23.00" height="64.32" fill="#000"/>
<text x="554.00" y="793.80" font-size="13.5" text-anchor="middle">a,c</text>
<text x="554.00" y="881.80" font-size="9.5" text-anchor="middle">NASH+LBP</text>
<path d="M610.70 809.01 L610.70 803.40 M608.80 803.40 L612.60 803.40" fill="none" stroke="#111" stroke-width="0.9"/>
<rect x="599.20" y="809.01" width="23.00" height="59.19" fill="#000"/>
<text x="610.70" y="801.90" font-size="13.5" text-anchor="middle">c</text>
<text x="610.70" y="881.80" font-size="9.5" text-anchor="middle">NASH+TLBP</text>
<line x1="412.10" y1="868.20" x2="639.10" y2="868.20" stroke="#868686" stroke-width="0.75"/>
<clipPath id="cp0"><rect x="409.3" y="241.2" width="253.70" height="30.40"/></clipPath>
<rect x="409.3" y="241.2" width="253.70" height="30.40" fill="#e9e9e9"/>
<clipPath id="cp1"><rect x="409.3" y="274.9" width="253.70" height="28.10"/></clipPath>
<rect x="409.3" y="274.9" width="253.70" height="28.10" fill="#ededed"/>
<clipPath id="cp2"><rect x="409.3" y="306.3" width="253.70" height="29.60"/></clipPath>
<rect x="409.3" y="306.3" width="253.70" height="29.60" fill="#f3f3f3"/>
<clipPath id="cp3"><rect x="409.3" y="339.2" width="253.70" height="30.10"/></clipPath>
<rect x="409.3" y="339.2" width="253.70" height="30.10" fill="#e7e7e7"/>
<clipPath id="cp4"><rect x="409.3" y="373.4" width="253.70" height="30.10"/></clipPath>
<rect x="409.3" y="373.4" width="253.70" height="30.10" fill="#dfdfdf"/>
<clipPath id="cp5"><rect x="409.3" y="406.5" width="253.70" height="30.40"/></clipPath>
<rect x="409.3" y="406.5" width="253.70" height="30.40" fill="#cfcfcf"/>
<g clip-path="url(#cp0)"><rect x="420.30" y="252.90" width="23.20" height="4.60" rx="2.30" fill="#333" opacity="0.85" filter="url(#b15)"/></g>
<g clip-path="url(#cp0)"><rect x="461.60" y="250.85" width="32.10" height="9.50" rx="4.75" fill="#111" opacity="0.95" filter="url(#b2)"/></g>
<g clip-path="url(#cp0)"><rect x="466.00" y="253.50" width="24.00" height="6.00" rx="3.00" fill="#000" opacity="0.7" filter="url(#b15)"/></g>
<g clip-path="url(#cp0)"><rect x="498.70" y="255.00" width="30.60" height="5.60" rx="2.80" fill="#1a1a1a" opacity="0.95" filter="url(#b15)"/></g>
<g clip-path="url(#cp0)"><rect x="540.80" y="256.00" width="28.60" height="6.00" rx="3.00" fill="#1a1a1a" opacity="0.95" filter="url(#b15)"/></g>
<g clip-path="url(#cp0)"><rect x="580.00" y="256.40" width="27.70" height="5.20" rx="2.60" fill="#222" opacity="0.9" filter="url(#b15)"/></g>
<g clip-path="url(#cp0)"><rect x="617.20" y="254.50" width="35.60" height="6.20" rx="3.10" fill="#181818" opacity="0.95" filter="url(#b15)"/></g>
<g clip-path="url(#cp0)"><rect x="634.00" y="252.60" width="18.00" height="8.00" rx="4.00" fill="#181818" opacity="0.9" filter="url(#b15)"/></g>
<g clip-path="url(#cp1)"><rect x="416.20" y="281.80" width="35.30" height="14.00" rx="7.00" fill="#000" opacity="1.0" filter="url(#b1)"/></g>
<g clip-path="url(#cp1)"><rect x="446.00" y="287.10" width="16.00" height="5.00" rx="2.50" fill="#000" opacity="1.0" filter="url(#b1)"/></g>
<g clip-path="url(#cp1)"><rect x="458.00" y="285.85" width="40.00" height="7.50" rx="3.75" fill="#000" opacity="1.0" filter="url(#b1)"/></g>
<g clip-path="url(#cp1)"><rect x="494.00" y="283.55" width="119.00" height="10.50" rx="5.25" fill="#000" opacity="1.0" filter="url(#b1)"/></g>
<g clip-path="url(#cp1)"><rect x="520.00" y="283.85" width="40.00" height="11.50" rx="5.75" fill="#000" opacity="1.0" filter="url(#b1)"/></g>
<g clip-path="url(#cp1)"><rect x="616.00" y="284.50" width="37.00" height="7.00" rx="3.50" fill="#000" opacity="1.0" filter="url(#b1)"/></g>
<g clip-path="url(#cp2)"><rect x="412.60" y="314.60" width="35.20" height="12.00" rx="6.00" fill="#000" opacity="1.0" filter="url(#b15)"/></g>
<g clip-path="url(#cp2)"><rect x="454.70" y="314.35" width="39.00" height="12.50" rx="6.25" fill="#000" opacity="1.0" filter="url(#b15)"/></g>
<g clip-path="url(#cp2)"><rect x="499.50" y="314.35" width="35.50" height="12.50" rx="6.25" fill="#000" opacity="1.0" filter="url(#b15)"/></g>
<g clip-path="url(#cp2)"><rect x="538.80" y="314.35" width="34.50" height="12.50" rx="6.25" fill="#000" opacity="1.0" filter="url(#b15)"/></g>
<g clip-path="url(#cp2)"><rect x="577.00" y="313.85" width="36.40" height="13.50" rx="6.75" fill="#000" opacity="1.0" filter="url(#b15)"/></g>
<g clip-path="url(#cp2)"><rect x="616.50" y="314.85" width="41.50" height="11.50" rx="5.75" fill="#000" opacity="1.0" filter="url(#b15)"/></g>
<g clip-path="url(#cp3)"><rect x="415.50" y="349.00" width="33.50" height="10.00" rx="5.00" fill="#555" opacity="0.62" filter="url(#b25)"/></g>
<g clip-path="url(#cp3)"><rect x="418.00" y="350.00" width="12.00" height="8.00" rx="4.00" fill="#444" opacity="0.4" filter="url(#b2)"/></g>
<g clip-path="url(#cp3)"><rect x="436.00" y="350.00" width="12.00" height="8.00" rx="4.00" fill="#444" opacity="0.4" filter="url(#b2)"/></g>
<g clip-path="url(#cp3)"><rect x="457.50" y="348.10" width="32.00" height="11.00" rx="5.50" fill="#222" opacity="0.85" filter="url(#b25)"/></g>
<g clip-path="url(#cp3)"><rect x="462.00" y="350.00" width="24.00" height="6.00" rx="3.00" fill="#111" opacity="0.5" filter="url(#b2)"/></g>
<g clip-path="url(#cp3)"><rect x="497.00" y="350.25" width="34.00" height="8.50" rx="4.25" fill="#777" opacity="0.55" filter="url(#b25)"/></g>
<g clip-path="url(#cp3)"><rect x="540.00" y="350.05" width="34.00" height="8.50" rx="4.25" fill="#777" opacity="0.6" filter="url(#b25)"/></g>
<g clip-path="url(#cp3)"><rect x="583.00" y="349.05" width="31.00" height="9.50" rx="4.75" fill="#444" opacity="0.72" filter="url(#b25)"/></g>
<g clip-path="url(#cp3)"><rect x="621.00" y="349.25" width="34.00" height="9.50" rx="4.75" fill="#505050" opacity="0.68" filter="url(#b25)"/></g>
<g clip-path="url(#cp3)"><rect x="640.00" y="349.50" width="14.00" height="9.00" rx="4.50" fill="#444" opacity="0.5" filter="url(#b2)"/></g>
<g clip-path="url(#cp4)"><g filter="url(#b15)" opacity="0.95" fill="#606060">
<rect x="418.4" y="380.25" width="43.60" height="13.5" rx="6.75"/>
<rect x="456" y="381.10" width="47.00" height="13" rx="6.50"/>
<rect x="497" y="381.55" width="44.00" height="12.5" rx="6.25"/>
<rect x="535" y="381.55" width="44.00" height="12.5" rx="6.25"/>
<rect x="573" y="381.75" width="45.00" height="12.5" rx="6.25"/>
<rect x="611" y="380.90" width="44.50" height="15" rx="7.50"/>
<rect x="425" y="384.3" width="222" height="7.5"/>
</g></g>
<g clip-path="url(#cp5)"><rect x="428.00" y="405.80" width="19.00" height="6.00" rx="3.00" fill="#555" opacity="0.85" filter="url(#b1)"/></g>
<g clip-path="url(#cp5)"><rect x="418.40" y="414.10" width="38.20" height="11.00" rx="5.50" fill="#0a0a0a" opacity="1.0" filter="url(#b1)"/></g>
<g clip-path="url(#cp5)"><rect x="459.70" y="414.60" width="35.20" height="10.00" rx="5.00" fill="#0a0a0a" opacity="1.0" filter="url(#b1)"/></g>
<g clip-path="url(#cp5)"><rect x="498.00" y="414.35" width="35.00" height="10.50" rx="5.25" fill="#0a0a0a" opacity="1.0" filter="url(#b1)"/></g>
<g clip-path="url(#cp5)"><rect x="536.00" y="414.35" width="35.30" height="10.50" rx="5.25" fill="#0a0a0a" opacity="1.0" filter="url(#b1)"/></g>
<g clip-path="url(#cp5)"><rect x="575.00" y="414.35" width="34.60" height="10.50" rx="5.25" fill="#0a0a0a" opacity="1.0" filter="url(#b1)"/></g>
<g clip-path="url(#cp5)"><rect x="614.60" y="415.60" width="32.10" height="8.00" rx="4.00" fill="#0a0a0a" opacity="1.0" filter="url(#b1)"/></g>
<rect x="409.3" y="241.2" width="253.70" height="30.40" fill="none" stroke="#555" stroke-width="0.8"/>
<rect x="409.3" y="274.9" width="253.70" height="28.10" fill="none" stroke="#555" stroke-width="0.8"/>
<rect x="409.3" y="306.3" width="253.70" height="29.60" fill="none" stroke="#555" stroke-width="0.8"/>
<rect x="409.3" y="339.2" width="253.70" height="30.10" fill="none" stroke="#555" stroke-width="0.8"/>
<rect x="409.3" y="373.4" width="253.70" height="30.10" fill="none" stroke="#555" stroke-width="0.8"/>
<rect x="409.3" y="406.5" width="253.70" height="30.40" fill="none" stroke="#555" stroke-width="0.8"/>
<text x="379.80" y="261.00" font-size="13" text-anchor="middle">Resistin</text>
<text x="381.00" y="285.40" font-size="13" text-anchor="middle">pIRS-1</text>
<text x="381.00" y="301.30" font-size="13" text-anchor="middle">(Ser307)</text>
<text x="381.00" y="325.90" font-size="13" text-anchor="middle">IRS-1</text>
<text x="381.00" y="349.70" font-size="13" text-anchor="middle">pGSK3α</text>
<text x="381.00" y="364.60" font-size="13" text-anchor="middle">(Ser21)</text>
<text x="381.00" y="393.00" font-size="13" text-anchor="middle">GSK3α</text>
<text x="382.50" y="425.60" font-size="13" text-anchor="middle">β-actin</text>
<text x="434.00" y="238.00" font-size="11.2" transform="rotate(-36 434.00 238.00)">Control</text>
<text x="471.00" y="236.50" font-size="11.2" transform="rotate(-36 471.00 236.50)">NASH</text>
<text x="513.00" y="236.50" font-size="11.2" transform="rotate(-36 513.00 236.50)">LBP</text>
<text x="552.00" y="235.00" font-size="11.2" transform="rotate(-36 552.00 235.00)">NASH+LBP</text>
<text x="595.00" y="235.00" font-size="11.2" transform="rotate(-36 595.00 235.00)">TLBP</text>
<text x="633.00" y="234.00" font-size="11.2" transform="rotate(-36 633.00 234.00)">NASH+TLBP</text>
</svg>
</body></html>
